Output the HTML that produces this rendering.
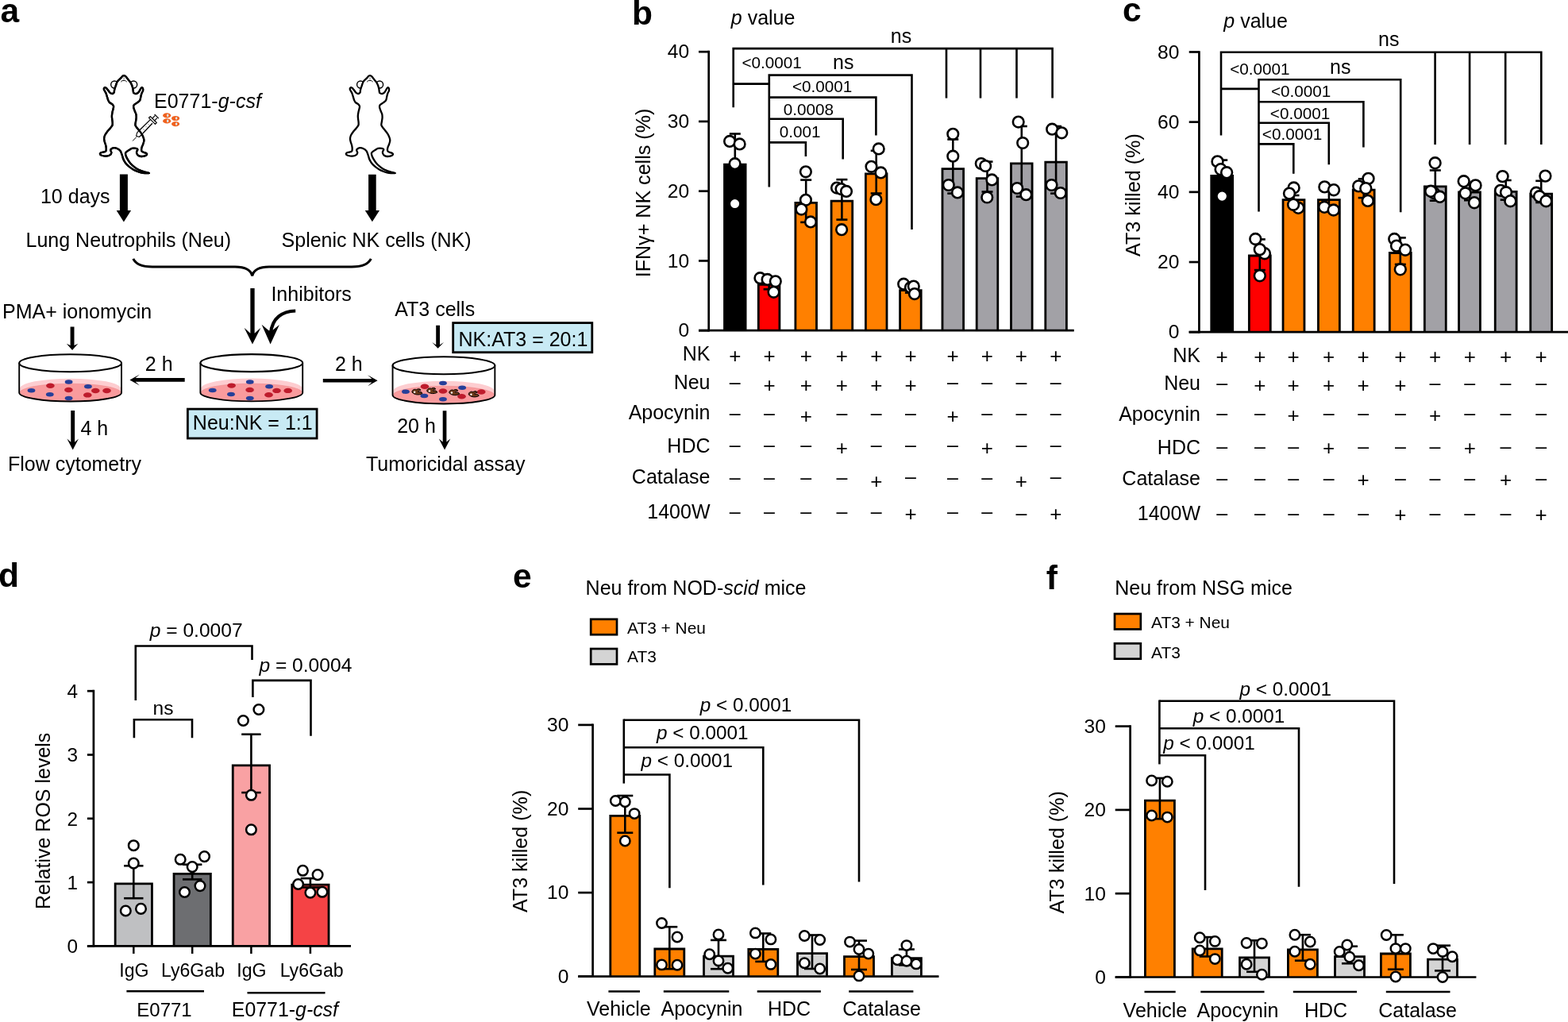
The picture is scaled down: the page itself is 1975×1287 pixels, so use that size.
<!DOCTYPE html>
<html><head><meta charset="utf-8"><title>Figure</title>
<style>
html,body{margin:0;padding:0;background:#fff;overflow:hidden;}
svg{display:block;}
text{font-family:'Liberation Sans', Arial, Helvetica, sans-serif;fill:#000;}
</style></head>
<body>
<svg width="1975" height="1287" viewBox="0 0 1975 1287">
<rect x="0" y="0" width="1975" height="1287" fill="#fff"/>
<g transform="translate(0 0)">
<circle cx="144.2" cy="106.5" r="4.5" fill="#fff" stroke="#000" stroke-width="1.4"/>
<circle cx="168.2" cy="106.5" r="4.5" fill="#fff" stroke="#000" stroke-width="1.4"/>
<path d="M157.4,95.5 C156.57,95.08 155.6,95.1 154.8,95.5 C154,95.9 153.42,97.07 152.6,97.9 C151.78,98.73 150.75,99.62 149.9,100.5 C149.05,101.38 148.15,102.03 147.5,103.2 C146.85,104.37 146.45,106.2 146,107.5 C145.55,108.8 145.13,109.9 144.8,111 C144.47,112.1 144.18,113.2 144,114.1 C143.82,115 144.08,115.75 143.7,116.4 C143.32,117.05 142.55,117.93 141.7,118 C140.85,118.07 139.57,117.58 138.6,116.8 C137.63,116.02 136.68,114.27 135.9,113.3 C135.12,112.33 134.55,111.52 133.9,111 C133.25,110.48 132.52,110.07 132,110.2 C131.48,110.33 130.87,111.15 130.8,111.8 C130.73,112.45 131.17,113.2 131.6,114.1 C132.03,115 132.88,116.03 133.4,117.2 C133.92,118.37 134.25,119.67 134.7,121.1 C135.15,122.53 135.58,124.5 136.1,125.8 C136.62,127.1 136.93,128 137.8,128.9 C138.67,129.8 140.42,130.37 141.3,131.2 C142.18,132.03 142.9,132.87 143.1,133.9 C143.3,134.93 142.75,136.22 142.5,137.4 C142.25,138.58 141.87,139.57 141.6,141 C141.33,142.43 140.97,144.5 140.9,146 C140.83,147.5 141.07,148.68 141.2,150 C141.33,151.32 141.65,152.6 141.7,153.9 C141.75,155.2 142.02,156.5 141.5,157.8 C140.98,159.1 139.78,160.22 138.6,161.7 C137.42,163.18 135.5,165.22 134.4,166.7 C133.3,168.18 132.55,169.3 132,170.6 C131.45,171.9 131.15,173.22 131.1,174.5 C131.05,175.78 131.35,176.88 131.7,178.3 C132.05,179.72 132.85,181.57 133.2,183 C133.55,184.43 133.8,185.67 133.8,186.9 C133.8,188.13 133.88,189.62 133.2,190.4 C132.52,191.18 130.8,191.23 129.7,191.6 C128.6,191.97 127.18,192.08 126.6,192.6 C126.02,193.12 125.82,194.13 126.2,194.7 C126.58,195.27 127.67,195.68 128.9,196 C130.13,196.32 132.03,196.7 133.6,196.6 C135.17,196.5 137.17,196.12 138.3,195.4 C139.43,194.68 140.25,193.33 140.4,192.3 C140.55,191.27 139.17,190.03 139.2,189.2 C139.23,188.37 139.85,187.82 140.6,187.3 C141.35,186.78 142.47,186.1 143.7,186.1 C144.93,186.1 146.7,186.65 148,187.3 C149.3,187.95 150.67,189.03 151.5,190 C152.33,190.97 152.55,192 153,193.1 C153.45,194.2 153.87,195.53 154.2,196.6 C154.53,197.67 154.65,198.53 155,199.5 C155.35,200.47 155.65,201.27 156.3,202.4 C156.95,203.53 157.78,205.02 158.9,206.3 C160.02,207.58 161.52,208.92 163,210.1 C164.48,211.28 166.18,212.47 167.8,213.4 C169.42,214.33 171.07,215.05 172.7,215.7 C174.33,216.35 175.97,216.92 177.6,217.3 C179.23,217.68 180.77,217.9 182.5,218 C184.23,218.1 188,218.15 188,217.9 C188,217.65 184.23,216.98 182.5,216.5 C180.77,216.02 179.23,215.62 177.6,215 C175.97,214.38 174.33,213.77 172.7,212.8 C171.07,211.83 169.27,210.45 167.8,209.2 C166.33,207.95 165.05,206.68 163.9,205.3 C162.75,203.92 161.73,202.28 160.9,200.9 C160.07,199.52 159.38,198.17 158.9,197 C158.42,195.83 158.1,194.68 158,193.9 C157.9,193.12 158.02,192.82 158.3,192.3 C158.58,191.78 158.87,191.43 159.7,190.8 C160.53,190.17 162.22,189.17 163.3,188.5 C164.38,187.83 164.9,187.08 166.2,186.8 C167.5,186.52 169.9,186.57 171.1,186.8 C172.3,187.03 173.22,187.53 173.4,188.2 C173.58,188.87 172.4,189.98 172.2,190.8 C172,191.62 171.83,192.23 172.2,193.1 C172.57,193.97 173.5,195.35 174.4,196 C175.3,196.65 176.25,196.95 177.6,197 C178.95,197.05 181.27,196.68 182.5,196.3 C183.73,195.92 184.7,195.25 185,194.7 C185.3,194.15 185.25,193.6 184.3,193 C183.35,192.4 180.33,191.75 179.3,191.1 C178.27,190.45 178.22,190.03 178.1,189.1 C177.98,188.17 178.25,186.75 178.6,185.5 C178.95,184.25 179.73,183.02 180.2,181.6 C180.67,180.18 181.33,178.42 181.4,177 C181.47,175.58 181.12,174.53 180.6,173.1 C180.08,171.67 179.27,169.97 178.3,168.4 C177.33,166.83 175.9,165.12 174.8,163.7 C173.7,162.28 172.43,161 171.7,159.9 C170.97,158.8 170.5,158.33 170.4,157.1 C170.3,155.87 170.88,154.05 171.1,152.5 C171.32,150.95 171.67,149.3 171.7,147.8 C171.73,146.3 171.68,144.97 171.3,143.5 C170.92,142.03 169.93,140.47 169.4,139 C168.87,137.53 168.18,135.87 168.1,134.7 C168.02,133.53 168.18,132.85 168.9,132 C169.62,131.15 171.3,130.38 172.4,129.6 C173.5,128.82 174.78,128.07 175.5,127.3 C176.22,126.53 176.37,126.03 176.7,125 C177.03,123.97 177.18,122.4 177.5,121.1 C177.82,119.8 178.17,118.37 178.6,117.2 C179.03,116.03 179.9,115.13 180.1,114.1 C180.3,113.07 180.12,111.62 179.8,111 C179.48,110.38 178.78,110.02 178.2,110.4 C177.62,110.78 176.93,112.3 176.3,113.3 C175.67,114.3 175.18,115.62 174.4,116.4 C173.62,117.18 172.58,117.87 171.6,118 C170.62,118.13 169.13,117.72 168.5,117.2 C167.87,116.68 167.98,115.8 167.8,114.9 C167.62,114 167.67,113.03 167.4,111.8 C167.13,110.57 166.72,108.87 166.2,107.5 C165.68,106.13 164.95,104.63 164.3,103.6 C163.65,102.57 163.05,102.23 162.3,101.3 C161.55,100.37 160.62,98.97 159.8,98 C158.98,97.03 158.23,95.92 157.4,95.5Z" fill="#fff" stroke="#000" stroke-width="2.3" stroke-linejoin="round"/>
<path d="M152.7,103.3 C152.8,101.7 154,101.4 156.1,101.4 C158.2,101.4 159.1,101.7 159.2,103.3" fill="none" stroke="#000" stroke-width="1.0"/>
<path d="M156.1,97.4 V100.6" fill="none" stroke="#555" stroke-width="0.8"/>
</g>
<g transform="translate(309.9 0)">
<circle cx="144.2" cy="106.5" r="4.5" fill="#fff" stroke="#000" stroke-width="1.4"/>
<circle cx="168.2" cy="106.5" r="4.5" fill="#fff" stroke="#000" stroke-width="1.4"/>
<path d="M157.4,95.5 C156.57,95.08 155.6,95.1 154.8,95.5 C154,95.9 153.42,97.07 152.6,97.9 C151.78,98.73 150.75,99.62 149.9,100.5 C149.05,101.38 148.15,102.03 147.5,103.2 C146.85,104.37 146.45,106.2 146,107.5 C145.55,108.8 145.13,109.9 144.8,111 C144.47,112.1 144.18,113.2 144,114.1 C143.82,115 144.08,115.75 143.7,116.4 C143.32,117.05 142.55,117.93 141.7,118 C140.85,118.07 139.57,117.58 138.6,116.8 C137.63,116.02 136.68,114.27 135.9,113.3 C135.12,112.33 134.55,111.52 133.9,111 C133.25,110.48 132.52,110.07 132,110.2 C131.48,110.33 130.87,111.15 130.8,111.8 C130.73,112.45 131.17,113.2 131.6,114.1 C132.03,115 132.88,116.03 133.4,117.2 C133.92,118.37 134.25,119.67 134.7,121.1 C135.15,122.53 135.58,124.5 136.1,125.8 C136.62,127.1 136.93,128 137.8,128.9 C138.67,129.8 140.42,130.37 141.3,131.2 C142.18,132.03 142.9,132.87 143.1,133.9 C143.3,134.93 142.75,136.22 142.5,137.4 C142.25,138.58 141.87,139.57 141.6,141 C141.33,142.43 140.97,144.5 140.9,146 C140.83,147.5 141.07,148.68 141.2,150 C141.33,151.32 141.65,152.6 141.7,153.9 C141.75,155.2 142.02,156.5 141.5,157.8 C140.98,159.1 139.78,160.22 138.6,161.7 C137.42,163.18 135.5,165.22 134.4,166.7 C133.3,168.18 132.55,169.3 132,170.6 C131.45,171.9 131.15,173.22 131.1,174.5 C131.05,175.78 131.35,176.88 131.7,178.3 C132.05,179.72 132.85,181.57 133.2,183 C133.55,184.43 133.8,185.67 133.8,186.9 C133.8,188.13 133.88,189.62 133.2,190.4 C132.52,191.18 130.8,191.23 129.7,191.6 C128.6,191.97 127.18,192.08 126.6,192.6 C126.02,193.12 125.82,194.13 126.2,194.7 C126.58,195.27 127.67,195.68 128.9,196 C130.13,196.32 132.03,196.7 133.6,196.6 C135.17,196.5 137.17,196.12 138.3,195.4 C139.43,194.68 140.25,193.33 140.4,192.3 C140.55,191.27 139.17,190.03 139.2,189.2 C139.23,188.37 139.85,187.82 140.6,187.3 C141.35,186.78 142.47,186.1 143.7,186.1 C144.93,186.1 146.7,186.65 148,187.3 C149.3,187.95 150.67,189.03 151.5,190 C152.33,190.97 152.55,192 153,193.1 C153.45,194.2 153.87,195.53 154.2,196.6 C154.53,197.67 154.65,198.53 155,199.5 C155.35,200.47 155.65,201.27 156.3,202.4 C156.95,203.53 157.78,205.02 158.9,206.3 C160.02,207.58 161.52,208.92 163,210.1 C164.48,211.28 166.18,212.47 167.8,213.4 C169.42,214.33 171.07,215.05 172.7,215.7 C174.33,216.35 175.97,216.92 177.6,217.3 C179.23,217.68 180.77,217.9 182.5,218 C184.23,218.1 188,218.15 188,217.9 C188,217.65 184.23,216.98 182.5,216.5 C180.77,216.02 179.23,215.62 177.6,215 C175.97,214.38 174.33,213.77 172.7,212.8 C171.07,211.83 169.27,210.45 167.8,209.2 C166.33,207.95 165.05,206.68 163.9,205.3 C162.75,203.92 161.73,202.28 160.9,200.9 C160.07,199.52 159.38,198.17 158.9,197 C158.42,195.83 158.1,194.68 158,193.9 C157.9,193.12 158.02,192.82 158.3,192.3 C158.58,191.78 158.87,191.43 159.7,190.8 C160.53,190.17 162.22,189.17 163.3,188.5 C164.38,187.83 164.9,187.08 166.2,186.8 C167.5,186.52 169.9,186.57 171.1,186.8 C172.3,187.03 173.22,187.53 173.4,188.2 C173.58,188.87 172.4,189.98 172.2,190.8 C172,191.62 171.83,192.23 172.2,193.1 C172.57,193.97 173.5,195.35 174.4,196 C175.3,196.65 176.25,196.95 177.6,197 C178.95,197.05 181.27,196.68 182.5,196.3 C183.73,195.92 184.7,195.25 185,194.7 C185.3,194.15 185.25,193.6 184.3,193 C183.35,192.4 180.33,191.75 179.3,191.1 C178.27,190.45 178.22,190.03 178.1,189.1 C177.98,188.17 178.25,186.75 178.6,185.5 C178.95,184.25 179.73,183.02 180.2,181.6 C180.67,180.18 181.33,178.42 181.4,177 C181.47,175.58 181.12,174.53 180.6,173.1 C180.08,171.67 179.27,169.97 178.3,168.4 C177.33,166.83 175.9,165.12 174.8,163.7 C173.7,162.28 172.43,161 171.7,159.9 C170.97,158.8 170.5,158.33 170.4,157.1 C170.3,155.87 170.88,154.05 171.1,152.5 C171.32,150.95 171.67,149.3 171.7,147.8 C171.73,146.3 171.68,144.97 171.3,143.5 C170.92,142.03 169.93,140.47 169.4,139 C168.87,137.53 168.18,135.87 168.1,134.7 C168.02,133.53 168.18,132.85 168.9,132 C169.62,131.15 171.3,130.38 172.4,129.6 C173.5,128.82 174.78,128.07 175.5,127.3 C176.22,126.53 176.37,126.03 176.7,125 C177.03,123.97 177.18,122.4 177.5,121.1 C177.82,119.8 178.17,118.37 178.6,117.2 C179.03,116.03 179.9,115.13 180.1,114.1 C180.3,113.07 180.12,111.62 179.8,111 C179.48,110.38 178.78,110.02 178.2,110.4 C177.62,110.78 176.93,112.3 176.3,113.3 C175.67,114.3 175.18,115.62 174.4,116.4 C173.62,117.18 172.58,117.87 171.6,118 C170.62,118.13 169.13,117.72 168.5,117.2 C167.87,116.68 167.98,115.8 167.8,114.9 C167.62,114 167.67,113.03 167.4,111.8 C167.13,110.57 166.72,108.87 166.2,107.5 C165.68,106.13 164.95,104.63 164.3,103.6 C163.65,102.57 163.05,102.23 162.3,101.3 C161.55,100.37 160.62,98.97 159.8,98 C158.98,97.03 158.23,95.92 157.4,95.5Z" fill="#fff" stroke="#000" stroke-width="2.3" stroke-linejoin="round"/>
<path d="M152.7,103.3 C152.8,101.7 154,101.4 156.1,101.4 C158.2,101.4 159.1,101.7 159.2,103.3" fill="none" stroke="#000" stroke-width="1.0"/>
<path d="M156.1,97.4 V100.6" fill="none" stroke="#555" stroke-width="0.8"/>
</g>
<g stroke="#000" fill="#fff" stroke-linejoin="round">
<path d="M176,163.7 L189.4,150.6 M179.9,168 L191.9,155.2" stroke-width="1.3" fill="none"/>
<path d="M187.5,148.3 L189.4,146.6 L197.3,154.5 L195.5,156.3 Z" stroke-width="1.2"/>
<path d="M191.5,149.5 L195.2,145.7 M194.2,152.3 L197.9,148.6 M194.6,143.8 L199.9,149.1" stroke-width="1.2" fill="none"/>
<path d="M176,163.7 L172.8,166.9 L171.6,171.2 L175.4,172.5 L179.9,168" stroke-width="1.1" fill="#fff"/>
<path d="M171.9,172.5 L167.1,177.5" stroke-width="1" fill="none"/>
<path d="M180.5,162.5 l1.2,1.2 M183.6,159.2 l1.2,1.2 M186.6,156.3 l1.2,1.2" stroke-width="0.6" fill="none"/>
</g>
<path d="M157.4,95.5 C156.57,95.08 155.6,95.1 154.8,95.5 C154,95.9 153.42,97.07 152.6,97.9 C151.78,98.73 150.75,99.62 149.9,100.5 C149.05,101.38 148.15,102.03 147.5,103.2 C146.85,104.37 146.45,106.2 146,107.5 C145.55,108.8 145.13,109.9 144.8,111 C144.47,112.1 144.18,113.2 144,114.1 C143.82,115 144.08,115.75 143.7,116.4 C143.32,117.05 142.55,117.93 141.7,118 C140.85,118.07 139.57,117.58 138.6,116.8 C137.63,116.02 136.68,114.27 135.9,113.3 C135.12,112.33 134.55,111.52 133.9,111 C133.25,110.48 132.52,110.07 132,110.2 C131.48,110.33 130.87,111.15 130.8,111.8 C130.73,112.45 131.17,113.2 131.6,114.1 C132.03,115 132.88,116.03 133.4,117.2 C133.92,118.37 134.25,119.67 134.7,121.1 C135.15,122.53 135.58,124.5 136.1,125.8 C136.62,127.1 136.93,128 137.8,128.9 C138.67,129.8 140.42,130.37 141.3,131.2 C142.18,132.03 142.9,132.87 143.1,133.9 C143.3,134.93 142.75,136.22 142.5,137.4 C142.25,138.58 141.87,139.57 141.6,141 C141.33,142.43 140.97,144.5 140.9,146 C140.83,147.5 141.07,148.68 141.2,150 C141.33,151.32 141.65,152.6 141.7,153.9 C141.75,155.2 142.02,156.5 141.5,157.8 C140.98,159.1 139.78,160.22 138.6,161.7 C137.42,163.18 135.5,165.22 134.4,166.7 C133.3,168.18 132.55,169.3 132,170.6 C131.45,171.9 131.15,173.22 131.1,174.5 C131.05,175.78 131.35,176.88 131.7,178.3 C132.05,179.72 132.85,181.57 133.2,183 C133.55,184.43 133.8,185.67 133.8,186.9 C133.8,188.13 133.88,189.62 133.2,190.4 C132.52,191.18 130.8,191.23 129.7,191.6 C128.6,191.97 127.18,192.08 126.6,192.6 C126.02,193.12 125.82,194.13 126.2,194.7 C126.58,195.27 127.67,195.68 128.9,196 C130.13,196.32 132.03,196.7 133.6,196.6 C135.17,196.5 137.17,196.12 138.3,195.4 C139.43,194.68 140.25,193.33 140.4,192.3 C140.55,191.27 139.17,190.03 139.2,189.2 C139.23,188.37 139.85,187.82 140.6,187.3 C141.35,186.78 142.47,186.1 143.7,186.1 C144.93,186.1 146.7,186.65 148,187.3 C149.3,187.95 150.67,189.03 151.5,190 C152.33,190.97 152.55,192 153,193.1 C153.45,194.2 153.87,195.53 154.2,196.6 C154.53,197.67 154.65,198.53 155,199.5 C155.35,200.47 155.65,201.27 156.3,202.4 C156.95,203.53 157.78,205.02 158.9,206.3 C160.02,207.58 161.52,208.92 163,210.1 C164.48,211.28 166.18,212.47 167.8,213.4 C169.42,214.33 171.07,215.05 172.7,215.7 C174.33,216.35 175.97,216.92 177.6,217.3 C179.23,217.68 180.77,217.9 182.5,218 C184.23,218.1 188,218.15 188,217.9 C188,217.65 184.23,216.98 182.5,216.5 C180.77,216.02 179.23,215.62 177.6,215 C175.97,214.38 174.33,213.77 172.7,212.8 C171.07,211.83 169.27,210.45 167.8,209.2 C166.33,207.95 165.05,206.68 163.9,205.3 C162.75,203.92 161.73,202.28 160.9,200.9 C160.07,199.52 159.38,198.17 158.9,197 C158.42,195.83 158.1,194.68 158,193.9 C157.9,193.12 158.02,192.82 158.3,192.3 C158.58,191.78 158.87,191.43 159.7,190.8 C160.53,190.17 162.22,189.17 163.3,188.5 C164.38,187.83 164.9,187.08 166.2,186.8 C167.5,186.52 169.9,186.57 171.1,186.8 C172.3,187.03 173.22,187.53 173.4,188.2 C173.58,188.87 172.4,189.98 172.2,190.8 C172,191.62 171.83,192.23 172.2,193.1 C172.57,193.97 173.5,195.35 174.4,196 C175.3,196.65 176.25,196.95 177.6,197 C178.95,197.05 181.27,196.68 182.5,196.3 C183.73,195.92 184.7,195.25 185,194.7 C185.3,194.15 185.25,193.6 184.3,193 C183.35,192.4 180.33,191.75 179.3,191.1 C178.27,190.45 178.22,190.03 178.1,189.1 C177.98,188.17 178.25,186.75 178.6,185.5 C178.95,184.25 179.73,183.02 180.2,181.6 C180.67,180.18 181.33,178.42 181.4,177 C181.47,175.58 181.12,174.53 180.6,173.1 C180.08,171.67 179.27,169.97 178.3,168.4 C177.33,166.83 175.9,165.12 174.8,163.7 C173.7,162.28 172.43,161 171.7,159.9 C170.97,158.8 170.5,158.33 170.4,157.1 C170.3,155.87 170.88,154.05 171.1,152.5 C171.32,150.95 171.67,149.3 171.7,147.8 C171.73,146.3 171.68,144.97 171.3,143.5 C170.92,142.03 169.93,140.47 169.4,139 C168.87,137.53 168.18,135.87 168.1,134.7 C168.02,133.53 168.18,132.85 168.9,132 C169.62,131.15 171.3,130.38 172.4,129.6 C173.5,128.82 174.78,128.07 175.5,127.3 C176.22,126.53 176.37,126.03 176.7,125 C177.03,123.97 177.18,122.4 177.5,121.1 C177.82,119.8 178.17,118.37 178.6,117.2 C179.03,116.03 179.9,115.13 180.1,114.1 C180.3,113.07 180.12,111.62 179.8,111 C179.48,110.38 178.78,110.02 178.2,110.4 C177.62,110.78 176.93,112.3 176.3,113.3 C175.67,114.3 175.18,115.62 174.4,116.4 C173.62,117.18 172.58,117.87 171.6,118 C170.62,118.13 169.13,117.72 168.5,117.2 C167.87,116.68 167.98,115.8 167.8,114.9 C167.62,114 167.67,113.03 167.4,111.8 C167.13,110.57 166.72,108.87 166.2,107.5 C165.68,106.13 164.95,104.63 164.3,103.6 C163.65,102.57 163.05,102.23 162.3,101.3 C161.55,100.37 160.62,98.97 159.8,98 C158.98,97.03 158.23,95.92 157.4,95.5Z" fill="none" stroke="#000" stroke-width="2.3" stroke-linejoin="round"/>
<ellipse cx="210.2" cy="145.4" rx="5.1" ry="3.1" fill="#f0621f"/>
<ellipse cx="211.2" cy="145.4" rx="1.2" ry="1.8" fill="#dde9f1"/>
<ellipse cx="221.1" cy="149.0" rx="5.1" ry="3.1" fill="#f0621f"/>
<ellipse cx="222.1" cy="149.0" rx="1.2" ry="1.8" fill="#dde9f1"/>
<ellipse cx="210.2" cy="152.4" rx="5.1" ry="3.1" fill="#f0621f"/>
<ellipse cx="211.2" cy="152.4" rx="1.2" ry="1.8" fill="#dde9f1"/>
<ellipse cx="221.1" cy="156.1" rx="5.1" ry="3.1" fill="#f0621f"/>
<ellipse cx="222.1" cy="156.1" rx="1.2" ry="1.8" fill="#dde9f1"/>
<text x="261.45" y="136.3" font-size="25" text-anchor="middle">E0771-<tspan font-style="italic">g-csf</tspan></text>
<path d="M150.9,219.4 H160.9 V265 H165.1 L155.9,279.6 L146.7,265 H150.9 Z" fill="#000"/>
<path d="M464.1,219.7 H473.7 V265 H478 L468.9,279.3 L459.8,265 H464.1 Z" fill="#000"/>
<text x="94.75" y="255.8" font-size="25" text-anchor="middle">10 days</text>
<text x="161.8" y="311.1" font-size="25" text-anchor="middle">Lung Neutrophils (Neu)</text>
<text x="474.05" y="311.1" font-size="25" text-anchor="middle">Splenic NK cells (NK)</text>
<path d="M167.8,325.8 C171,332.5 178,335.9 192,335.9 L296,335.9 C309,335.9 316,340 317.7,347.3 C319.4,340 326,335.9 339,335.9 L443,335.9 C457,335.9 464,332.5 467.3,325.8" fill="none" stroke="#000" stroke-width="3"/>
<path d="M315.35,363 H320.65 V419.7 L328.4,412.7 L318,433.4 L307.6,412.7 L315.35,419.7 Z" fill="#000"/>
<path d="M372.2,391.5 C356,392 342.5,400 341,420" fill="none" stroke="#000" stroke-width="4.2"/>
<path d="M329.6,408.7 L340.6,433.4 L351.9,409.1 L342.8,416.3 L338.6,416.3 Z" fill="#000"/>
<text x="392.15" y="379.2" font-size="25" text-anchor="middle">Inhibitors</text>
<text x="97.1" y="400.5" font-size="25" text-anchor="middle">PMA+ ionomycin</text>
<path d="M88.6,411.5 H93.5 V435.1 L98.25,432.7 L91.05,440.9 L83.85,432.7 L88.6,435.1 Z" fill="#000"/>
<path d="M25,489.2 A63.6,12.5 0 0 1 152.2,489.2 V494.5 A63.6,11.3 0 0 1 25,494.5 Z" fill="#fdcdd0"/>
<ellipse cx="88.6" cy="494.5" rx="63.6" ry="11.3" fill="#f99b9d"/>
<path d="M25,494.5 A63.6,11.3 0 0 1 152.2,494.5" fill="none" stroke="#ee8a8d" stroke-width="0.6"/>
<ellipse cx="39.5" cy="491.7" rx="4.9" ry="2.75" fill="#263f99"/>
<ellipse cx="86.6" cy="481.1" rx="4.9" ry="2.75" fill="#263f99"/>
<ellipse cx="110.9" cy="486.8" rx="4.9" ry="2.75" fill="#263f99"/>
<ellipse cx="62.8" cy="496.7" rx="4.9" ry="2.75" fill="#263f99"/>
<ellipse cx="86.6" cy="501.5" rx="4.9" ry="2.75" fill="#263f99"/>
<ellipse cx="63.4" cy="485.7" rx="5.3" ry="3.2" fill="#be1c2c"/>
<ellipse cx="86.4" cy="491" rx="5.3" ry="3.2" fill="#be1c2c"/>
<ellipse cx="120.3" cy="492" rx="5.3" ry="3.2" fill="#be1c2c"/>
<ellipse cx="134.5" cy="492" rx="5.3" ry="3.2" fill="#be1c2c"/>
<ellipse cx="110.3" cy="497.4" rx="5.3" ry="3.2" fill="#be1c2c"/>
<path d="M24.2,457.2 V494.5 A64.4,11 0 0 0 153,494.5 V457.2" fill="none" stroke="#000" stroke-width="1.9"/>
<ellipse cx="88.6" cy="457.2" rx="64.4" ry="11" fill="none" stroke="#000" stroke-width="2.1"/>
<path d="M253.2,489.1 A63.6,12.5 0 0 1 380.4,489.1 V494.4 A63.6,11.3 0 0 1 253.2,494.4 Z" fill="#fdcdd0"/>
<ellipse cx="316.8" cy="494.4" rx="63.6" ry="11.3" fill="#f99b9d"/>
<path d="M253.2,494.4 A63.6,11.3 0 0 1 380.4,494.4" fill="none" stroke="#ee8a8d" stroke-width="0.6"/>
<ellipse cx="267.7" cy="491.6" rx="4.9" ry="2.75" fill="#263f99"/>
<ellipse cx="314.8" cy="481" rx="4.9" ry="2.75" fill="#263f99"/>
<ellipse cx="339.1" cy="486.7" rx="4.9" ry="2.75" fill="#263f99"/>
<ellipse cx="291" cy="496.6" rx="4.9" ry="2.75" fill="#263f99"/>
<ellipse cx="314.8" cy="501.4" rx="4.9" ry="2.75" fill="#263f99"/>
<ellipse cx="291.6" cy="485.6" rx="5.3" ry="3.2" fill="#be1c2c"/>
<ellipse cx="314.6" cy="490.9" rx="5.3" ry="3.2" fill="#be1c2c"/>
<ellipse cx="348.5" cy="491.9" rx="5.3" ry="3.2" fill="#be1c2c"/>
<ellipse cx="362.7" cy="491.9" rx="5.3" ry="3.2" fill="#be1c2c"/>
<ellipse cx="338.5" cy="497.3" rx="5.3" ry="3.2" fill="#be1c2c"/>
<path d="M252.4,457.1 V494.4 A64.4,11 0 0 0 381.2,494.4 V457.1" fill="none" stroke="#000" stroke-width="1.9"/>
<ellipse cx="316.8" cy="457.1" rx="64.4" ry="11" fill="none" stroke="#000" stroke-width="2.1"/>
<path d="M495.35,492.2 A63.6,12.5 0 0 1 622.55,492.2 V497.5 A63.6,11.3 0 0 1 495.35,497.5 Z" fill="#fdcdd0"/>
<ellipse cx="558.95" cy="497.5" rx="63.6" ry="11.3" fill="#f99b9d"/>
<path d="M495.35,497.5 A63.6,11.3 0 0 1 622.55,497.5" fill="none" stroke="#ee8a8d" stroke-width="0.6"/>
<ellipse cx="510.95" cy="493.2" rx="4.9" ry="2.75" fill="#263f99"/>
<ellipse cx="557.95" cy="482.5" rx="4.9" ry="2.75" fill="#263f99"/>
<ellipse cx="582.15" cy="488.2" rx="4.9" ry="2.75" fill="#263f99"/>
<ellipse cx="534.35" cy="498.5" rx="4.9" ry="2.75" fill="#263f99"/>
<ellipse cx="557.95" cy="502.7" rx="4.9" ry="2.75" fill="#263f99"/>
<ellipse cx="534.95" cy="486.8" rx="5.3" ry="3.2" fill="#be1c2c"/>
<ellipse cx="557.95" cy="492.5" rx="5.3" ry="3.2" fill="#be1c2c"/>
<ellipse cx="606.25" cy="493.5" rx="5.3" ry="3.2" fill="#be1c2c"/>
<ellipse cx="581.55" cy="499.2" rx="5.3" ry="3.2" fill="#be1c2c"/>
<path d="M518.95,494 C518.95,490.5 522.45,489.7 524.45,490.7 C526.45,489.3 529.45,489.5 529.95,491.3 C527.45,491.5 526.45,492.5 526.95,493.7 C528.95,492.7 531.45,493.5 531.95,495.5 C528.45,497.7 522.45,497.7 518.95,494 Z" fill="#6b3818" stroke="#000" stroke-width="1"/>
<circle cx="522.15" cy="493.8" r="1.2" fill="#fff"/>
<path d="M537.75,492.6 C537.75,489.1 541.25,488.3 543.25,489.3 C545.25,487.9 548.25,488.1 548.75,489.9 C546.25,490.1 545.25,491.1 545.75,492.3 C547.75,491.3 550.25,492.1 550.75,494.1 C547.25,496.3 541.25,496.3 537.75,492.6 Z" fill="#6b3818" stroke="#000" stroke-width="1"/>
<circle cx="540.95" cy="492.4" r="1.2" fill="#fff"/>
<path d="M565.75,494.7 C565.75,491.2 569.25,490.4 571.25,491.4 C573.25,490 576.25,490.2 576.75,492 C574.25,492.2 573.25,493.2 573.75,494.4 C575.75,493.4 578.25,494.2 578.75,496.2 C575.25,498.4 569.25,498.4 565.75,494.7 Z" fill="#6b3818" stroke="#000" stroke-width="1"/>
<circle cx="568.95" cy="494.5" r="1.2" fill="#fff"/>
<path d="M590.25,496.9 C590.25,493.4 593.75,492.6 595.75,493.6 C597.75,492.2 600.75,492.4 601.25,494.2 C598.75,494.4 597.75,495.4 598.25,496.6 C600.25,495.6 602.75,496.4 603.25,498.4 C599.75,500.6 593.75,500.6 590.25,496.9 Z" fill="#6b3818" stroke="#000" stroke-width="1"/>
<circle cx="593.45" cy="496.7" r="1.2" fill="#fff"/>
<path d="M494.55,460.2 V497.5 A64.4,11 0 0 0 623.35,497.5 V460.2" fill="none" stroke="#000" stroke-width="1.9"/>
<ellipse cx="558.95" cy="460.2" rx="64.4" ry="11" fill="none" stroke="#000" stroke-width="2.1"/>
<path d="M232.7,476.1 H170.6 L175.9,471.4 L163.4,478.4 L175.9,485.4 L170.6,480.7 H232.7 Z" fill="#000"/>
<text x="200.2" y="466.6" font-size="25" text-anchor="middle">2 h</text>
<path d="M406.8,476.9 H468.4 L463.1,472.2 L475.6,479.2 L463.1,486.2 L468.4,481.5 H406.8 Z" fill="#000"/>
<text x="439.4" y="466.5" font-size="25" text-anchor="middle">2 h</text>
<rect x="236.4" y="515.1" width="162.7" height="36.9" fill="#c8eaf4" stroke="#000" stroke-width="2.8"/>
<text x="318.25" y="540.9" font-size="25" text-anchor="middle">Neu:NK = 1:1</text>
<rect x="570.7" y="406.6" width="175.1" height="37.1" fill="#c8eaf4" stroke="#000" stroke-width="2.8"/>
<text x="658.95" y="435.5" font-size="25" text-anchor="middle">NK:AT3 = 20:1</text>
<text x="547.7" y="397.9" font-size="25" text-anchor="middle">AT3 cells</text>
<path d="M549.2,409.7 H554 V434.3 L559.05,431 L551.6,438.8 L544.15,431 L549.2,434.3 Z" fill="#000"/>
<path d="M89.25,517 H94.15 V556.8 L98.95,552.6 L91.7,566.5 L84.45,552.6 L89.25,556.8 Z" fill="#000"/>
<text x="118.85" y="548.1" font-size="25" text-anchor="middle">4 h</text>
<path d="M557.7,517.2 H562.4 V556.6 L567.3,552.5 L560.05,566.5 L552.8,552.5 L557.7,556.6 Z" fill="#000"/>
<text x="524.5" y="544.9" font-size="25" text-anchor="middle">20 h</text>
<text x="94" y="592.9" font-size="25" text-anchor="middle">Flow cytometry</text>
<text x="561.25" y="593.3" font-size="25" text-anchor="middle">Tumoricidal assay</text>
<text x="12.2" y="27.6" font-size="42.5" text-anchor="middle" font-weight="bold">a</text>
<line x1="892.7" y1="63.85" x2="892.7" y2="417.55" stroke="#000" stroke-width="2.7" stroke-linecap="butt"/>
<line x1="880" y1="416.2" x2="892.7" y2="416.2" stroke="#000" stroke-width="2.7" stroke-linecap="butt"/>
<text x="868.2" y="424.4" font-size="24.6" text-anchor="end">0</text>
<line x1="880" y1="328.45" x2="892.7" y2="328.45" stroke="#000" stroke-width="2.7" stroke-linecap="butt"/>
<text x="868.2" y="336.65" font-size="24.6" text-anchor="end">10</text>
<line x1="880" y1="240.7" x2="892.7" y2="240.7" stroke="#000" stroke-width="2.7" stroke-linecap="butt"/>
<text x="868.2" y="248.9" font-size="24.6" text-anchor="end">20</text>
<line x1="880" y1="152.95" x2="892.7" y2="152.95" stroke="#000" stroke-width="2.7" stroke-linecap="butt"/>
<text x="868.2" y="161.15" font-size="24.6" text-anchor="end">30</text>
<line x1="880" y1="65.2" x2="892.7" y2="65.2" stroke="#000" stroke-width="2.7" stroke-linecap="butt"/>
<text x="868.2" y="73.4" font-size="24.6" text-anchor="end">40</text>
<path d="M912.5,416.2 V207.2 H939.1 V416.2" fill="#000" stroke="#000" stroke-width="2.8" stroke-linejoin="miter"/>
<path d="M955.3,416.2 V358.4 H981.9 V416.2" fill="#ff0000" stroke="#000" stroke-width="2.8" stroke-linejoin="miter"/>
<path d="M1001.9,416.2 V255.4 H1028.5 V416.2" fill="#ff8000" stroke="#000" stroke-width="2.8" stroke-linejoin="miter"/>
<path d="M1047.1,416.2 V253.2 H1073.7 V416.2" fill="#ff8000" stroke="#000" stroke-width="2.8" stroke-linejoin="miter"/>
<path d="M1090.4,416.2 V218.8 H1117 V416.2" fill="#ff8000" stroke="#000" stroke-width="2.8" stroke-linejoin="miter"/>
<path d="M1133.6,416.2 V365.7 H1160.2 V416.2" fill="#ff8000" stroke="#000" stroke-width="2.8" stroke-linejoin="miter"/>
<path d="M1187,416.2 V212.6 H1213.6 V416.2" fill="#a2a1a6" stroke="#000" stroke-width="2.8" stroke-linejoin="miter"/>
<path d="M1230.2,416.2 V224.7 H1256.8 V416.2" fill="#a2a1a6" stroke="#000" stroke-width="2.8" stroke-linejoin="miter"/>
<path d="M1273.5,416.2 V205.9 H1300.1 V416.2" fill="#a2a1a6" stroke="#000" stroke-width="2.8" stroke-linejoin="miter"/>
<path d="M1316.8,416.2 V204.1 H1343.4 V416.2" fill="#a2a1a6" stroke="#000" stroke-width="2.8" stroke-linejoin="miter"/>
<line x1="880" y1="416.2" x2="1352.8" y2="416.2" stroke="#000" stroke-width="2.7" stroke-linecap="butt"/>
<line x1="925.8" y1="168.5" x2="925.8" y2="245.5" stroke="#000" stroke-width="2.6" stroke-linecap="butt"/>
<line x1="918.8" y1="168.5" x2="932.8" y2="168.5" stroke="#000" stroke-width="2.6" stroke-linecap="butt"/>
<line x1="918.8" y1="245.5" x2="932.8" y2="245.5" stroke="#000" stroke-width="2.6" stroke-linecap="butt"/>
<line x1="968.6" y1="352.5" x2="968.6" y2="364.3" stroke="#000" stroke-width="2.6" stroke-linecap="butt"/>
<line x1="961.6" y1="352.5" x2="975.6" y2="352.5" stroke="#000" stroke-width="2.6" stroke-linecap="butt"/>
<line x1="961.6" y1="364.3" x2="975.6" y2="364.3" stroke="#000" stroke-width="2.6" stroke-linecap="butt"/>
<line x1="1015.2" y1="226.6" x2="1015.2" y2="279.9" stroke="#000" stroke-width="2.6" stroke-linecap="butt"/>
<line x1="1008.2" y1="226.6" x2="1022.2" y2="226.6" stroke="#000" stroke-width="2.6" stroke-linecap="butt"/>
<line x1="1008.2" y1="279.9" x2="1022.2" y2="279.9" stroke="#000" stroke-width="2.6" stroke-linecap="butt"/>
<line x1="1060.4" y1="226.1" x2="1060.4" y2="276.6" stroke="#000" stroke-width="2.6" stroke-linecap="butt"/>
<line x1="1053.4" y1="226.1" x2="1067.4" y2="226.1" stroke="#000" stroke-width="2.6" stroke-linecap="butt"/>
<line x1="1053.4" y1="276.6" x2="1067.4" y2="276.6" stroke="#000" stroke-width="2.6" stroke-linecap="butt"/>
<line x1="1103.7" y1="189.8" x2="1103.7" y2="243.5" stroke="#000" stroke-width="2.6" stroke-linecap="butt"/>
<line x1="1096.7" y1="189.8" x2="1110.7" y2="189.8" stroke="#000" stroke-width="2.6" stroke-linecap="butt"/>
<line x1="1096.7" y1="243.5" x2="1110.7" y2="243.5" stroke="#000" stroke-width="2.6" stroke-linecap="butt"/>
<line x1="1146.9" y1="362.8" x2="1146.9" y2="368.6" stroke="#000" stroke-width="2.6" stroke-linecap="butt"/>
<line x1="1139.9" y1="362.8" x2="1153.9" y2="362.8" stroke="#000" stroke-width="2.6" stroke-linecap="butt"/>
<line x1="1139.9" y1="368.6" x2="1153.9" y2="368.6" stroke="#000" stroke-width="2.6" stroke-linecap="butt"/>
<line x1="1200.3" y1="175.5" x2="1200.3" y2="243.6" stroke="#000" stroke-width="2.6" stroke-linecap="butt"/>
<line x1="1193.3" y1="175.5" x2="1207.3" y2="175.5" stroke="#000" stroke-width="2.6" stroke-linecap="butt"/>
<line x1="1193.3" y1="243.6" x2="1207.3" y2="243.6" stroke="#000" stroke-width="2.6" stroke-linecap="butt"/>
<line x1="1243.5" y1="203.6" x2="1243.5" y2="241.5" stroke="#000" stroke-width="2.6" stroke-linecap="butt"/>
<line x1="1236.5" y1="203.6" x2="1250.5" y2="203.6" stroke="#000" stroke-width="2.6" stroke-linecap="butt"/>
<line x1="1236.5" y1="241.5" x2="1250.5" y2="241.5" stroke="#000" stroke-width="2.6" stroke-linecap="butt"/>
<line x1="1286.8" y1="159" x2="1286.8" y2="247.6" stroke="#000" stroke-width="2.6" stroke-linecap="butt"/>
<line x1="1279.8" y1="159" x2="1293.8" y2="159" stroke="#000" stroke-width="2.6" stroke-linecap="butt"/>
<line x1="1279.8" y1="247.6" x2="1293.8" y2="247.6" stroke="#000" stroke-width="2.6" stroke-linecap="butt"/>
<line x1="1330.1" y1="159" x2="1330.1" y2="243.6" stroke="#000" stroke-width="2.6" stroke-linecap="butt"/>
<line x1="1323.1" y1="159" x2="1337.1" y2="159" stroke="#000" stroke-width="2.6" stroke-linecap="butt"/>
<line x1="1323.1" y1="243.6" x2="1337.1" y2="243.6" stroke="#000" stroke-width="2.6" stroke-linecap="butt"/>
<circle cx="919.1" cy="177.9" r="6.8" fill="#fff" stroke="#000" stroke-width="2.6"/>
<circle cx="931.6" cy="181.4" r="6.8" fill="#fff" stroke="#000" stroke-width="2.6"/>
<circle cx="925.6" cy="206.2" r="6.8" fill="#fff" stroke="#000" stroke-width="2.6"/>
<circle cx="925.6" cy="256.6" r="6.8" fill="#fff" stroke="#000" stroke-width="2.6"/>
<circle cx="957.4" cy="350.2" r="6.8" fill="#fff" stroke="#000" stroke-width="2.6"/>
<circle cx="966.6" cy="351.9" r="6.8" fill="#fff" stroke="#000" stroke-width="2.6"/>
<circle cx="976.8" cy="354.3" r="6.8" fill="#fff" stroke="#000" stroke-width="2.6"/>
<circle cx="974.5" cy="367.8" r="6.8" fill="#fff" stroke="#000" stroke-width="2.6"/>
<circle cx="1014.9" cy="216.3" r="6.8" fill="#fff" stroke="#000" stroke-width="2.6"/>
<circle cx="1014.9" cy="251.8" r="6.8" fill="#fff" stroke="#000" stroke-width="2.6"/>
<circle cx="1009.4" cy="263.6" r="6.8" fill="#fff" stroke="#000" stroke-width="2.6"/>
<circle cx="1021" cy="279.4" r="6.8" fill="#fff" stroke="#000" stroke-width="2.6"/>
<circle cx="1054" cy="236.6" r="6.8" fill="#fff" stroke="#000" stroke-width="2.6"/>
<circle cx="1059.5" cy="238.1" r="6.8" fill="#fff" stroke="#000" stroke-width="2.6"/>
<circle cx="1066" cy="240.9" r="6.8" fill="#fff" stroke="#000" stroke-width="2.6"/>
<circle cx="1060.1" cy="289.2" r="6.8" fill="#fff" stroke="#000" stroke-width="2.6"/>
<circle cx="1106.7" cy="187.4" r="6.8" fill="#fff" stroke="#000" stroke-width="2.6"/>
<circle cx="1097.5" cy="209.8" r="6.8" fill="#fff" stroke="#000" stroke-width="2.6"/>
<circle cx="1109.5" cy="217.4" r="6.8" fill="#fff" stroke="#000" stroke-width="2.6"/>
<circle cx="1103.4" cy="251.2" r="6.8" fill="#fff" stroke="#000" stroke-width="2.6"/>
<circle cx="1138.2" cy="357.7" r="6.8" fill="#fff" stroke="#000" stroke-width="2.6"/>
<circle cx="1147" cy="362" r="6.8" fill="#fff" stroke="#000" stroke-width="2.6"/>
<circle cx="1150.8" cy="360.6" r="6.8" fill="#fff" stroke="#000" stroke-width="2.6"/>
<circle cx="1151.9" cy="370.1" r="6.8" fill="#fff" stroke="#000" stroke-width="2.6"/>
<circle cx="1200.3" cy="168.8" r="6.8" fill="#fff" stroke="#000" stroke-width="2.6"/>
<circle cx="1200.3" cy="196.7" r="6.8" fill="#fff" stroke="#000" stroke-width="2.6"/>
<circle cx="1194.8" cy="233" r="6.8" fill="#fff" stroke="#000" stroke-width="2.6"/>
<circle cx="1206" cy="242.4" r="6.8" fill="#fff" stroke="#000" stroke-width="2.6"/>
<circle cx="1235.8" cy="206" r="6.8" fill="#fff" stroke="#000" stroke-width="2.6"/>
<circle cx="1241.2" cy="209" r="6.8" fill="#fff" stroke="#000" stroke-width="2.6"/>
<circle cx="1249.4" cy="226.4" r="6.8" fill="#fff" stroke="#000" stroke-width="2.6"/>
<circle cx="1243.3" cy="248.5" r="6.8" fill="#fff" stroke="#000" stroke-width="2.6"/>
<circle cx="1282.7" cy="153.6" r="6.8" fill="#fff" stroke="#000" stroke-width="2.6"/>
<circle cx="1288.2" cy="180" r="6.8" fill="#fff" stroke="#000" stroke-width="2.6"/>
<circle cx="1281.2" cy="237" r="6.8" fill="#fff" stroke="#000" stroke-width="2.6"/>
<circle cx="1292.4" cy="245.2" r="6.8" fill="#fff" stroke="#000" stroke-width="2.6"/>
<circle cx="1325.2" cy="162.7" r="6.8" fill="#fff" stroke="#000" stroke-width="2.6"/>
<circle cx="1337.3" cy="167.3" r="6.8" fill="#fff" stroke="#000" stroke-width="2.6"/>
<circle cx="1324.5" cy="233" r="6.8" fill="#fff" stroke="#000" stroke-width="2.6"/>
<circle cx="1335.8" cy="243" r="6.8" fill="#fff" stroke="#000" stroke-width="2.6"/>
<polyline points="923.7,135.3 923.7,61.1 1325.6,61.1 1325.6,123.6" fill="none" stroke="#000" stroke-width="2.6" stroke-linejoin="miter" stroke-linecap="butt"/>
<line x1="1192" y1="61.1" x2="1192" y2="123.6" stroke="#000" stroke-width="2.6" stroke-linecap="butt"/>
<line x1="1235" y1="61.1" x2="1235" y2="123.6" stroke="#000" stroke-width="2.6" stroke-linecap="butt"/>
<line x1="1280.5" y1="61.1" x2="1280.5" y2="123.6" stroke="#000" stroke-width="2.6" stroke-linecap="butt"/>
<line x1="923.7" y1="105.6" x2="968.8" y2="105.6" stroke="#000" stroke-width="2.6" stroke-linecap="butt"/>
<polyline points="968.8,235.5 968.8,94.6 1148.5,94.6 1148.5,289" fill="none" stroke="#000" stroke-width="2.6" stroke-linejoin="miter" stroke-linecap="butt"/>
<polyline points="968.8,122.6 1103.4,122.6 1103.4,170.4" fill="none" stroke="#000" stroke-width="2.6" stroke-linejoin="miter" stroke-linecap="butt"/>
<polyline points="968.8,149.7 1061.7,149.7 1061.7,200.5" fill="none" stroke="#000" stroke-width="2.6" stroke-linejoin="miter" stroke-linecap="butt"/>
<polyline points="968.8,179.4 1014.9,179.4 1014.9,197.1" fill="none" stroke="#000" stroke-width="2.6" stroke-linejoin="miter" stroke-linecap="butt"/>
<text x="1135" y="53.9" font-size="25" text-anchor="middle">ns</text>
<text x="934.4" y="86.2" font-size="20.7" text-anchor="start">&lt;0.0001</text>
<text x="1062.2" y="86.5" font-size="25" text-anchor="middle">ns</text>
<text x="998" y="116.3" font-size="20.7" text-anchor="start">&lt;0.0001</text>
<text x="986.8" y="145.2" font-size="20.7" text-anchor="start">0.0008</text>
<text x="981.8" y="173.4" font-size="20.7" text-anchor="start">0.001</text>
<text x="920.8" y="30.5" font-size="25" text-anchor="start"><tspan font-style="italic">p</tspan> value</text>
<text x="809.05" y="30.6" font-size="42.5" text-anchor="middle" font-weight="bold">b</text>
<text x="818.5" y="243" font-size="25.1" text-anchor="middle" transform="rotate(-90 818.5 243)">IFNγ+ NK cells (%)</text>
<text x="894.5" y="453.8" font-size="25" text-anchor="end">NK</text>
<text x="925.8" y="456.55" font-size="26" text-anchor="middle">+</text>
<text x="969" y="456.55" font-size="26" text-anchor="middle">+</text>
<text x="1015.3" y="456.55" font-size="26" text-anchor="middle">+</text>
<text x="1060.4" y="456.55" font-size="26" text-anchor="middle">+</text>
<text x="1103.8" y="456.55" font-size="26" text-anchor="middle">+</text>
<text x="1147" y="456.55" font-size="26" text-anchor="middle">+</text>
<text x="1200" y="456.55" font-size="26" text-anchor="middle">+</text>
<text x="1243.3" y="456.55" font-size="26" text-anchor="middle">+</text>
<text x="1286.4" y="456.55" font-size="26" text-anchor="middle">+</text>
<text x="1329.8" y="456.55" font-size="26" text-anchor="middle">+</text>
<text x="894.5" y="489.85" font-size="25" text-anchor="end">Neu</text>
<text x="925.8" y="490.2" font-size="25" text-anchor="middle">–</text>
<text x="969" y="494.45" font-size="26" text-anchor="middle">+</text>
<text x="1015.3" y="494.45" font-size="26" text-anchor="middle">+</text>
<text x="1060.4" y="494.45" font-size="26" text-anchor="middle">+</text>
<text x="1103.8" y="494.45" font-size="26" text-anchor="middle">+</text>
<text x="1147" y="494.45" font-size="26" text-anchor="middle">+</text>
<text x="1200" y="490.2" font-size="25" text-anchor="middle">–</text>
<text x="1243.3" y="490.2" font-size="25" text-anchor="middle">–</text>
<text x="1286.4" y="490.2" font-size="25" text-anchor="middle">–</text>
<text x="1329.8" y="490.2" font-size="25" text-anchor="middle">–</text>
<text x="894.5" y="527.7" font-size="25" text-anchor="end">Apocynin</text>
<text x="925.8" y="528.9" font-size="25" text-anchor="middle">–</text>
<text x="969" y="528.9" font-size="25" text-anchor="middle">–</text>
<text x="1015.3" y="533.15" font-size="26" text-anchor="middle">+</text>
<text x="1060.4" y="528.9" font-size="25" text-anchor="middle">–</text>
<text x="1103.8" y="528.9" font-size="25" text-anchor="middle">–</text>
<text x="1147" y="528.9" font-size="25" text-anchor="middle">–</text>
<text x="1200" y="533.15" font-size="26" text-anchor="middle">+</text>
<text x="1243.3" y="528.9" font-size="25" text-anchor="middle">–</text>
<text x="1286.4" y="528.9" font-size="25" text-anchor="middle">–</text>
<text x="1329.8" y="528.9" font-size="25" text-anchor="middle">–</text>
<text x="894.5" y="570" font-size="25" text-anchor="end">HDC</text>
<text x="925.8" y="568.8" font-size="25" text-anchor="middle">–</text>
<text x="969" y="568.8" font-size="25" text-anchor="middle">–</text>
<text x="1015.3" y="568.8" font-size="25" text-anchor="middle">–</text>
<text x="1060.4" y="572.85" font-size="26" text-anchor="middle">+</text>
<text x="1103.8" y="568.8" font-size="25" text-anchor="middle">–</text>
<text x="1147" y="568.8" font-size="25" text-anchor="middle">–</text>
<text x="1200" y="568.8" font-size="25" text-anchor="middle">–</text>
<text x="1243.3" y="572.85" font-size="26" text-anchor="middle">+</text>
<text x="1286.4" y="568.8" font-size="25" text-anchor="middle">–</text>
<text x="1329.8" y="568.8" font-size="25" text-anchor="middle">–</text>
<text x="894.5" y="608.7" font-size="25" text-anchor="end">Catalase</text>
<text x="925.8" y="609.8" font-size="25" text-anchor="middle">–</text>
<text x="969" y="609.8" font-size="25" text-anchor="middle">–</text>
<text x="1015.3" y="609.8" font-size="25" text-anchor="middle">–</text>
<text x="1060.4" y="609.8" font-size="25" text-anchor="middle">–</text>
<text x="1103.8" y="614.65" font-size="26" text-anchor="middle">+</text>
<text x="1147" y="608.9" font-size="25" text-anchor="middle">–</text>
<text x="1200" y="609.8" font-size="25" text-anchor="middle">–</text>
<text x="1243.3" y="609.8" font-size="25" text-anchor="middle">–</text>
<text x="1286.4" y="614.65" font-size="26" text-anchor="middle">+</text>
<text x="1329.8" y="608.9" font-size="25" text-anchor="middle">–</text>
<text x="894.5" y="652.6" font-size="25" text-anchor="end">1400W</text>
<text x="925.8" y="652.6" font-size="25" text-anchor="middle">–</text>
<text x="969" y="652.6" font-size="25" text-anchor="middle">–</text>
<text x="1015.3" y="652.6" font-size="25" text-anchor="middle">–</text>
<text x="1060.4" y="652.6" font-size="25" text-anchor="middle">–</text>
<text x="1103.8" y="653.1" font-size="25" text-anchor="middle">–</text>
<text x="1147" y="656.35" font-size="26" text-anchor="middle">+</text>
<text x="1200" y="652.6" font-size="25" text-anchor="middle">–</text>
<text x="1243.3" y="652.6" font-size="25" text-anchor="middle">–</text>
<text x="1286.4" y="654.7" font-size="25" text-anchor="middle">–</text>
<text x="1329.8" y="656.35" font-size="26" text-anchor="middle">+</text>
<line x1="1510.4" y1="64.13" x2="1510.4" y2="419.55" stroke="#000" stroke-width="2.7" stroke-linecap="butt"/>
<line x1="1497.7" y1="418.2" x2="1510.4" y2="418.2" stroke="#000" stroke-width="2.7" stroke-linecap="butt"/>
<text x="1485.4" y="426.4" font-size="24.6" text-anchor="end">0</text>
<line x1="1497.7" y1="330.02" x2="1510.4" y2="330.02" stroke="#000" stroke-width="2.7" stroke-linecap="butt"/>
<text x="1485.4" y="338.22" font-size="24.6" text-anchor="end">20</text>
<line x1="1497.7" y1="241.84" x2="1510.4" y2="241.84" stroke="#000" stroke-width="2.7" stroke-linecap="butt"/>
<text x="1485.4" y="250.04" font-size="24.6" text-anchor="end">40</text>
<line x1="1497.7" y1="153.66" x2="1510.4" y2="153.66" stroke="#000" stroke-width="2.7" stroke-linecap="butt"/>
<text x="1485.4" y="161.86" font-size="24.6" text-anchor="end">60</text>
<line x1="1497.7" y1="65.48" x2="1510.4" y2="65.48" stroke="#000" stroke-width="2.7" stroke-linecap="butt"/>
<text x="1485.4" y="73.68" font-size="24.6" text-anchor="end">80</text>
<path d="M1525.75,418.2 V221.5 H1552.65 V418.2" fill="#000" stroke="#000" stroke-width="2.8" stroke-linejoin="miter"/>
<path d="M1573.35,418.2 V322 H1600.25 V418.2" fill="#ff0000" stroke="#000" stroke-width="2.8" stroke-linejoin="miter"/>
<path d="M1616.05,418.2 V251.6 H1642.95 V418.2" fill="#ff8000" stroke="#000" stroke-width="2.8" stroke-linejoin="miter"/>
<path d="M1660.45,418.2 V251.6 H1687.35 V418.2" fill="#ff8000" stroke="#000" stroke-width="2.8" stroke-linejoin="miter"/>
<path d="M1704.25,418.2 V239.2 H1731.15 V418.2" fill="#ff8000" stroke="#000" stroke-width="2.8" stroke-linejoin="miter"/>
<path d="M1750.35,418.2 V318.5 H1777.25 V418.2" fill="#ff8000" stroke="#000" stroke-width="2.8" stroke-linejoin="miter"/>
<path d="M1794.35,418.2 V234.8 H1821.25 V418.2" fill="#a2a1a6" stroke="#000" stroke-width="2.8" stroke-linejoin="miter"/>
<path d="M1837.55,418.2 V242 H1864.45 V418.2" fill="#a2a1a6" stroke="#000" stroke-width="2.8" stroke-linejoin="miter"/>
<path d="M1883.25,418.2 V241.3 H1910.15 V418.2" fill="#a2a1a6" stroke="#000" stroke-width="2.8" stroke-linejoin="miter"/>
<path d="M1927.75,418.2 V244.2 H1954.65 V418.2" fill="#a2a1a6" stroke="#000" stroke-width="2.8" stroke-linejoin="miter"/>
<line x1="1497.6" y1="418.2" x2="1975" y2="418.2" stroke="#000" stroke-width="2.7" stroke-linecap="butt"/>
<line x1="1539.2" y1="201.6" x2="1539.2" y2="241" stroke="#000" stroke-width="2.6" stroke-linecap="butt"/>
<line x1="1532.2" y1="201.6" x2="1546.2" y2="201.6" stroke="#000" stroke-width="2.6" stroke-linecap="butt"/>
<line x1="1532.2" y1="241" x2="1546.2" y2="241" stroke="#000" stroke-width="2.6" stroke-linecap="butt"/>
<line x1="1586.8" y1="301.4" x2="1586.8" y2="340.1" stroke="#000" stroke-width="2.6" stroke-linecap="butt"/>
<line x1="1579.8" y1="301.4" x2="1593.8" y2="301.4" stroke="#000" stroke-width="2.6" stroke-linecap="butt"/>
<line x1="1579.8" y1="340.1" x2="1593.8" y2="340.1" stroke="#000" stroke-width="2.6" stroke-linecap="butt"/>
<line x1="1629.5" y1="246" x2="1629.5" y2="257" stroke="#000" stroke-width="2.6" stroke-linecap="butt"/>
<line x1="1622.5" y1="246" x2="1636.5" y2="246" stroke="#000" stroke-width="2.6" stroke-linecap="butt"/>
<line x1="1622.5" y1="257" x2="1636.5" y2="257" stroke="#000" stroke-width="2.6" stroke-linecap="butt"/>
<line x1="1673.9" y1="238" x2="1673.9" y2="259" stroke="#000" stroke-width="2.6" stroke-linecap="butt"/>
<line x1="1666.9" y1="238" x2="1680.9" y2="238" stroke="#000" stroke-width="2.6" stroke-linecap="butt"/>
<line x1="1666.9" y1="259" x2="1680.9" y2="259" stroke="#000" stroke-width="2.6" stroke-linecap="butt"/>
<line x1="1717.7" y1="225.3" x2="1717.7" y2="249.1" stroke="#000" stroke-width="2.6" stroke-linecap="butt"/>
<line x1="1710.7" y1="225.3" x2="1724.7" y2="225.3" stroke="#000" stroke-width="2.6" stroke-linecap="butt"/>
<line x1="1710.7" y1="249.1" x2="1724.7" y2="249.1" stroke="#000" stroke-width="2.6" stroke-linecap="butt"/>
<line x1="1763.8" y1="299.4" x2="1763.8" y2="332.9" stroke="#000" stroke-width="2.6" stroke-linecap="butt"/>
<line x1="1756.8" y1="299.4" x2="1770.8" y2="299.4" stroke="#000" stroke-width="2.6" stroke-linecap="butt"/>
<line x1="1756.8" y1="332.9" x2="1770.8" y2="332.9" stroke="#000" stroke-width="2.6" stroke-linecap="butt"/>
<line x1="1807.8" y1="214.5" x2="1807.8" y2="252.7" stroke="#000" stroke-width="2.6" stroke-linecap="butt"/>
<line x1="1800.8" y1="214.5" x2="1814.8" y2="214.5" stroke="#000" stroke-width="2.6" stroke-linecap="butt"/>
<line x1="1800.8" y1="252.7" x2="1814.8" y2="252.7" stroke="#000" stroke-width="2.6" stroke-linecap="butt"/>
<line x1="1851" y1="232" x2="1851" y2="252.2" stroke="#000" stroke-width="2.6" stroke-linecap="butt"/>
<line x1="1844" y1="232" x2="1858" y2="232" stroke="#000" stroke-width="2.6" stroke-linecap="butt"/>
<line x1="1844" y1="252.2" x2="1858" y2="252.2" stroke="#000" stroke-width="2.6" stroke-linecap="butt"/>
<line x1="1896.7" y1="227" x2="1896.7" y2="251.7" stroke="#000" stroke-width="2.6" stroke-linecap="butt"/>
<line x1="1889.7" y1="227" x2="1903.7" y2="227" stroke="#000" stroke-width="2.6" stroke-linecap="butt"/>
<line x1="1889.7" y1="251.7" x2="1903.7" y2="251.7" stroke="#000" stroke-width="2.6" stroke-linecap="butt"/>
<line x1="1941.2" y1="227.8" x2="1941.2" y2="255" stroke="#000" stroke-width="2.6" stroke-linecap="butt"/>
<line x1="1934.2" y1="227.8" x2="1948.2" y2="227.8" stroke="#000" stroke-width="2.6" stroke-linecap="butt"/>
<line x1="1934.2" y1="255" x2="1948.2" y2="255" stroke="#000" stroke-width="2.6" stroke-linecap="butt"/>
<circle cx="1533.5" cy="203.4" r="6.9" fill="#fff" stroke="#000" stroke-width="2.6"/>
<circle cx="1537.6" cy="213.2" r="6.9" fill="#fff" stroke="#000" stroke-width="2.6"/>
<circle cx="1545.1" cy="217.3" r="6.9" fill="#fff" stroke="#000" stroke-width="2.6"/>
<circle cx="1539.3" cy="247.1" r="6.9" fill="#fff" stroke="#000" stroke-width="2.6"/>
<circle cx="1581.3" cy="301" r="6.9" fill="#fff" stroke="#000" stroke-width="2.6"/>
<circle cx="1592.9" cy="319.2" r="6.9" fill="#fff" stroke="#000" stroke-width="2.6"/>
<circle cx="1586.8" cy="314.1" r="6.9" fill="#fff" stroke="#000" stroke-width="2.6"/>
<circle cx="1586.8" cy="347.2" r="6.9" fill="#fff" stroke="#000" stroke-width="2.6"/>
<circle cx="1629.6" cy="236.5" r="6.9" fill="#fff" stroke="#000" stroke-width="2.6"/>
<circle cx="1624" cy="243.6" r="6.9" fill="#fff" stroke="#000" stroke-width="2.6"/>
<circle cx="1635.3" cy="261.8" r="6.9" fill="#fff" stroke="#000" stroke-width="2.6"/>
<circle cx="1629.1" cy="257.7" r="6.9" fill="#fff" stroke="#000" stroke-width="2.6"/>
<circle cx="1668.4" cy="235.4" r="6.9" fill="#fff" stroke="#000" stroke-width="2.6"/>
<circle cx="1680" cy="239.2" r="6.9" fill="#fff" stroke="#000" stroke-width="2.6"/>
<circle cx="1668.1" cy="260.8" r="6.9" fill="#fff" stroke="#000" stroke-width="2.6"/>
<circle cx="1679.7" cy="264.5" r="6.9" fill="#fff" stroke="#000" stroke-width="2.6"/>
<circle cx="1723.5" cy="224.9" r="6.9" fill="#fff" stroke="#000" stroke-width="2.6"/>
<circle cx="1711.2" cy="234.4" r="6.9" fill="#fff" stroke="#000" stroke-width="2.6"/>
<circle cx="1720.3" cy="237.2" r="6.9" fill="#fff" stroke="#000" stroke-width="2.6"/>
<circle cx="1722.8" cy="252.9" r="6.9" fill="#fff" stroke="#000" stroke-width="2.6"/>
<circle cx="1756.3" cy="301" r="6.9" fill="#fff" stroke="#000" stroke-width="2.6"/>
<circle cx="1759" cy="309.6" r="6.9" fill="#fff" stroke="#000" stroke-width="2.6"/>
<circle cx="1770" cy="314.7" r="6.9" fill="#fff" stroke="#000" stroke-width="2.6"/>
<circle cx="1763.8" cy="339.3" r="6.9" fill="#fff" stroke="#000" stroke-width="2.6"/>
<circle cx="1807.6" cy="205.3" r="6.9" fill="#fff" stroke="#000" stroke-width="2.6"/>
<circle cx="1806" cy="243" r="6.9" fill="#fff" stroke="#000" stroke-width="2.6"/>
<circle cx="1802.2" cy="240.8" r="6.9" fill="#fff" stroke="#000" stroke-width="2.6"/>
<circle cx="1813.6" cy="247.8" r="6.9" fill="#fff" stroke="#000" stroke-width="2.6"/>
<circle cx="1843.7" cy="228.3" r="6.9" fill="#fff" stroke="#000" stroke-width="2.6"/>
<circle cx="1858.5" cy="233.4" r="6.9" fill="#fff" stroke="#000" stroke-width="2.6"/>
<circle cx="1845.7" cy="243.3" r="6.9" fill="#fff" stroke="#000" stroke-width="2.6"/>
<circle cx="1857" cy="255.2" r="6.9" fill="#fff" stroke="#000" stroke-width="2.6"/>
<circle cx="1892.6" cy="222.1" r="6.9" fill="#fff" stroke="#000" stroke-width="2.6"/>
<circle cx="1890.1" cy="239.9" r="6.9" fill="#fff" stroke="#000" stroke-width="2.6"/>
<circle cx="1897" cy="242.3" r="6.9" fill="#fff" stroke="#000" stroke-width="2.6"/>
<circle cx="1902.4" cy="253.2" r="6.9" fill="#fff" stroke="#000" stroke-width="2.6"/>
<circle cx="1946.4" cy="221.6" r="6.9" fill="#fff" stroke="#000" stroke-width="2.6"/>
<circle cx="1935" cy="242.8" r="6.9" fill="#fff" stroke="#000" stroke-width="2.6"/>
<circle cx="1939" cy="247.3" r="6.9" fill="#fff" stroke="#000" stroke-width="2.6"/>
<circle cx="1947.4" cy="253.2" r="6.9" fill="#fff" stroke="#000" stroke-width="2.6"/>
<polyline points="1538,170.4 1538,65.8 1941.3,65.8 1941.3,182.1" fill="none" stroke="#000" stroke-width="2.6" stroke-linejoin="miter" stroke-linecap="butt"/>
<line x1="1807.6" y1="65.8" x2="1807.6" y2="182.1" stroke="#000" stroke-width="2.6" stroke-linecap="butt"/>
<line x1="1851.1" y1="65.8" x2="1851.1" y2="182.1" stroke="#000" stroke-width="2.6" stroke-linecap="butt"/>
<line x1="1896.2" y1="65.8" x2="1896.2" y2="182.1" stroke="#000" stroke-width="2.6" stroke-linecap="butt"/>
<line x1="1538" y1="111.9" x2="1585.5" y2="111.9" stroke="#000" stroke-width="2.6" stroke-linecap="butt"/>
<polyline points="1585.5,266.6 1585.5,100.2 1764.2,100.2 1764.2,267.3" fill="none" stroke="#000" stroke-width="2.6" stroke-linejoin="miter" stroke-linecap="butt"/>
<polyline points="1585.5,128.2 1717.4,128.2 1717.4,185.4" fill="none" stroke="#000" stroke-width="2.6" stroke-linejoin="miter" stroke-linecap="butt"/>
<polyline points="1585.5,154.7 1673.8,154.7 1673.8,207.2" fill="none" stroke="#000" stroke-width="2.6" stroke-linejoin="miter" stroke-linecap="butt"/>
<polyline points="1585.5,181.4 1629.3,181.4 1629.3,218.8" fill="none" stroke="#000" stroke-width="2.6" stroke-linejoin="miter" stroke-linecap="butt"/>
<text x="1749.3" y="57.7" font-size="25" text-anchor="middle">ns</text>
<text x="1549.2" y="94.1" font-size="20.7" text-anchor="start">&lt;0.0001</text>
<text x="1688.2" y="92.8" font-size="25" text-anchor="middle">ns</text>
<text x="1601" y="121.8" font-size="20.7" text-anchor="start">&lt;0.0001</text>
<text x="1599.8" y="150.4" font-size="20.7" text-anchor="start">&lt;0.0001</text>
<text x="1589.8" y="176" font-size="20.7" text-anchor="start">&lt;0.0001</text>
<text x="1541.3" y="35.3" font-size="25" text-anchor="start"><tspan font-style="italic">p</tspan> value</text>
<text x="1425.75" y="26.9" font-size="42.5" text-anchor="middle" font-weight="bold">c</text>
<text x="1436" y="245.6" font-size="25.2" text-anchor="middle" transform="rotate(-90 1436 245.6)">AT3 killed (%)</text>
<text x="1512" y="455.6" font-size="25" text-anchor="end">NK</text>
<text x="1539.2" y="458.05" font-size="26" text-anchor="middle">+</text>
<text x="1586.9" y="458.05" font-size="26" text-anchor="middle">+</text>
<text x="1629.2" y="458.05" font-size="26" text-anchor="middle">+</text>
<text x="1673.7" y="458.05" font-size="26" text-anchor="middle">+</text>
<text x="1717.2" y="458.05" font-size="26" text-anchor="middle">+</text>
<text x="1763.9" y="458.05" font-size="26" text-anchor="middle">+</text>
<text x="1807.5" y="458.05" font-size="26" text-anchor="middle">+</text>
<text x="1851.3" y="458.05" font-size="26" text-anchor="middle">+</text>
<text x="1896.5" y="458.05" font-size="26" text-anchor="middle">+</text>
<text x="1941.1" y="458.05" font-size="26" text-anchor="middle">+</text>
<text x="1512" y="491.1" font-size="25" text-anchor="end">Neu</text>
<text x="1539.2" y="491.1" font-size="25" text-anchor="middle">–</text>
<text x="1586.9" y="493.65" font-size="26" text-anchor="middle">+</text>
<text x="1629.2" y="493.65" font-size="26" text-anchor="middle">+</text>
<text x="1673.7" y="493.65" font-size="26" text-anchor="middle">+</text>
<text x="1717.2" y="493.65" font-size="26" text-anchor="middle">+</text>
<text x="1763.9" y="493.65" font-size="26" text-anchor="middle">+</text>
<text x="1807.5" y="491.1" font-size="25" text-anchor="middle">–</text>
<text x="1851.3" y="491.1" font-size="25" text-anchor="middle">–</text>
<text x="1896.5" y="491.1" font-size="25" text-anchor="middle">–</text>
<text x="1941.1" y="491.1" font-size="25" text-anchor="middle">–</text>
<text x="1512" y="529.6" font-size="25" text-anchor="end">Apocynin</text>
<text x="1539.2" y="529.4" font-size="25" text-anchor="middle">–</text>
<text x="1586.9" y="529.4" font-size="25" text-anchor="middle">–</text>
<text x="1629.2" y="531.55" font-size="26" text-anchor="middle">+</text>
<text x="1673.7" y="529.4" font-size="25" text-anchor="middle">–</text>
<text x="1717.2" y="529.4" font-size="25" text-anchor="middle">–</text>
<text x="1763.9" y="529.4" font-size="25" text-anchor="middle">–</text>
<text x="1807.5" y="531.55" font-size="26" text-anchor="middle">+</text>
<text x="1851.3" y="529.4" font-size="25" text-anchor="middle">–</text>
<text x="1896.5" y="529.4" font-size="25" text-anchor="middle">–</text>
<text x="1941.1" y="529.4" font-size="25" text-anchor="middle">–</text>
<text x="1512" y="571.6" font-size="25" text-anchor="end">HDC</text>
<text x="1539.2" y="571.3" font-size="25" text-anchor="middle">–</text>
<text x="1586.9" y="571.3" font-size="25" text-anchor="middle">–</text>
<text x="1629.2" y="571.3" font-size="25" text-anchor="middle">–</text>
<text x="1673.7" y="573.25" font-size="26" text-anchor="middle">+</text>
<text x="1717.2" y="571.3" font-size="25" text-anchor="middle">–</text>
<text x="1763.9" y="571.3" font-size="25" text-anchor="middle">–</text>
<text x="1807.5" y="571.3" font-size="25" text-anchor="middle">–</text>
<text x="1851.3" y="573.25" font-size="26" text-anchor="middle">+</text>
<text x="1896.5" y="571.3" font-size="25" text-anchor="middle">–</text>
<text x="1941.1" y="571.3" font-size="25" text-anchor="middle">–</text>
<text x="1512" y="610.9" font-size="25" text-anchor="end">Catalase</text>
<text x="1539.2" y="611" font-size="25" text-anchor="middle">–</text>
<text x="1586.9" y="611" font-size="25" text-anchor="middle">–</text>
<text x="1629.2" y="611" font-size="25" text-anchor="middle">–</text>
<text x="1673.7" y="611" font-size="25" text-anchor="middle">–</text>
<text x="1717.2" y="613.05" font-size="26" text-anchor="middle">+</text>
<text x="1763.9" y="611" font-size="25" text-anchor="middle">–</text>
<text x="1807.5" y="611" font-size="25" text-anchor="middle">–</text>
<text x="1851.3" y="611" font-size="25" text-anchor="middle">–</text>
<text x="1896.5" y="613.05" font-size="26" text-anchor="middle">+</text>
<text x="1941.1" y="611" font-size="25" text-anchor="middle">–</text>
<text x="1512" y="654.6" font-size="25" text-anchor="end">1400W</text>
<text x="1539.2" y="654.8" font-size="25" text-anchor="middle">–</text>
<text x="1586.9" y="654.8" font-size="25" text-anchor="middle">–</text>
<text x="1629.2" y="654.8" font-size="25" text-anchor="middle">–</text>
<text x="1673.7" y="654.8" font-size="25" text-anchor="middle">–</text>
<text x="1717.2" y="654.8" font-size="25" text-anchor="middle">–</text>
<text x="1763.9" y="656.75" font-size="26" text-anchor="middle">+</text>
<text x="1807.5" y="654.8" font-size="25" text-anchor="middle">–</text>
<text x="1851.3" y="654.8" font-size="25" text-anchor="middle">–</text>
<text x="1896.5" y="654.8" font-size="25" text-anchor="middle">–</text>
<text x="1941.1" y="656.75" font-size="26" text-anchor="middle">+</text>
<line x1="117.9" y1="868.85" x2="117.9" y2="1192.75" stroke="#000" stroke-width="2.7" stroke-linecap="butt"/>
<line x1="109.9" y1="1191.4" x2="117.9" y2="1191.4" stroke="#000" stroke-width="2.7" stroke-linecap="butt"/>
<text x="98.2" y="1200.2" font-size="24.4" text-anchor="end">0</text>
<line x1="109.9" y1="1111.1" x2="117.9" y2="1111.1" stroke="#000" stroke-width="2.7" stroke-linecap="butt"/>
<text x="98.2" y="1119.9" font-size="24.4" text-anchor="end">1</text>
<line x1="109.9" y1="1030.8" x2="117.9" y2="1030.8" stroke="#000" stroke-width="2.7" stroke-linecap="butt"/>
<text x="98.2" y="1039.6" font-size="24.4" text-anchor="end">2</text>
<line x1="109.9" y1="950.5" x2="117.9" y2="950.5" stroke="#000" stroke-width="2.7" stroke-linecap="butt"/>
<text x="98.2" y="959.3" font-size="24.4" text-anchor="end">3</text>
<line x1="109.9" y1="870.2" x2="117.9" y2="870.2" stroke="#000" stroke-width="2.7" stroke-linecap="butt"/>
<text x="98.2" y="879" font-size="24.4" text-anchor="end">4</text>
<path d="M145.15,1191.4 V1112.8 H191.45 V1191.4" fill="#bfc0c2" stroke="#000" stroke-width="2.8" stroke-linejoin="miter"/>
<path d="M219.05,1191.4 V1100.4 H265.35 V1191.4" fill="#6d6e71" stroke="#000" stroke-width="2.8" stroke-linejoin="miter"/>
<path d="M293.25,1191.4 V963.9 H339.55 V1191.4" fill="#f9a1a3" stroke="#000" stroke-width="2.8" stroke-linejoin="miter"/>
<path d="M367.75,1191.4 V1114.1 H414.05 V1191.4" fill="#f54345" stroke="#000" stroke-width="2.8" stroke-linejoin="miter"/>
<line x1="109.9" y1="1191.4" x2="442" y2="1191.4" stroke="#000" stroke-width="2.7" stroke-linecap="butt"/>
<line x1="168.3" y1="1191.4" x2="168.3" y2="1201" stroke="#000" stroke-width="2.5" stroke-linecap="butt"/>
<line x1="242.2" y1="1191.4" x2="242.2" y2="1201" stroke="#000" stroke-width="2.5" stroke-linecap="butt"/>
<line x1="316.4" y1="1191.4" x2="316.4" y2="1201" stroke="#000" stroke-width="2.5" stroke-linecap="butt"/>
<line x1="390.9" y1="1191.4" x2="390.9" y2="1201" stroke="#000" stroke-width="2.5" stroke-linecap="butt"/>
<line x1="168.3" y1="1090.3" x2="168.3" y2="1131.2" stroke="#000" stroke-width="2.6" stroke-linecap="butt"/>
<line x1="156.1" y1="1090.3" x2="180.5" y2="1090.3" stroke="#000" stroke-width="2.6" stroke-linecap="butt"/>
<line x1="156.1" y1="1131.2" x2="180.5" y2="1131.2" stroke="#000" stroke-width="2.6" stroke-linecap="butt"/>
<line x1="242.2" y1="1088.7" x2="242.2" y2="1107.4" stroke="#000" stroke-width="2.6" stroke-linecap="butt"/>
<line x1="230" y1="1088.7" x2="254.4" y2="1088.7" stroke="#000" stroke-width="2.6" stroke-linecap="butt"/>
<line x1="230" y1="1107.4" x2="254.4" y2="1107.4" stroke="#000" stroke-width="2.6" stroke-linecap="butt"/>
<line x1="316.4" y1="924.7" x2="316.4" y2="998.1" stroke="#000" stroke-width="2.6" stroke-linecap="butt"/>
<line x1="304.2" y1="924.7" x2="328.6" y2="924.7" stroke="#000" stroke-width="2.6" stroke-linecap="butt"/>
<line x1="304.2" y1="998.1" x2="328.6" y2="998.1" stroke="#000" stroke-width="2.6" stroke-linecap="butt"/>
<line x1="390.9" y1="1106.1" x2="390.9" y2="1117.5" stroke="#000" stroke-width="2.6" stroke-linecap="butt"/>
<line x1="378.7" y1="1106.1" x2="403.1" y2="1106.1" stroke="#000" stroke-width="2.6" stroke-linecap="butt"/>
<line x1="378.7" y1="1117.5" x2="403.1" y2="1117.5" stroke="#000" stroke-width="2.6" stroke-linecap="butt"/>
<circle cx="168.3" cy="1064.7" r="6.3" fill="#fff" stroke="#000" stroke-width="2.5"/>
<circle cx="168.3" cy="1087.1" r="6.3" fill="#fff" stroke="#000" stroke-width="2.5"/>
<circle cx="158.3" cy="1147" r="6.3" fill="#fff" stroke="#000" stroke-width="2.5"/>
<circle cx="177.5" cy="1144.4" r="6.3" fill="#fff" stroke="#000" stroke-width="2.5"/>
<circle cx="227.2" cy="1082.3" r="6.3" fill="#fff" stroke="#000" stroke-width="2.5"/>
<circle cx="257.5" cy="1078.6" r="6.3" fill="#fff" stroke="#000" stroke-width="2.5"/>
<circle cx="242.2" cy="1091.6" r="6.3" fill="#fff" stroke="#000" stroke-width="2.5"/>
<circle cx="252" cy="1115.6" r="6.3" fill="#fff" stroke="#000" stroke-width="2.5"/>
<circle cx="232.5" cy="1123.5" r="6.3" fill="#fff" stroke="#000" stroke-width="2.5"/>
<circle cx="325.9" cy="893.5" r="6.3" fill="#fff" stroke="#000" stroke-width="2.5"/>
<circle cx="306.4" cy="907.5" r="6.3" fill="#fff" stroke="#000" stroke-width="2.5"/>
<circle cx="316.4" cy="1001.3" r="6.3" fill="#fff" stroke="#000" stroke-width="2.5"/>
<circle cx="316.4" cy="1044.8" r="6.3" fill="#fff" stroke="#000" stroke-width="2.5"/>
<circle cx="381.4" cy="1096.3" r="6.3" fill="#fff" stroke="#000" stroke-width="2.5"/>
<circle cx="400.1" cy="1101.6" r="6.3" fill="#fff" stroke="#000" stroke-width="2.5"/>
<circle cx="375.6" cy="1113.5" r="6.3" fill="#fff" stroke="#000" stroke-width="2.5"/>
<circle cx="390.9" cy="1124.1" r="6.3" fill="#fff" stroke="#000" stroke-width="2.5"/>
<circle cx="405.9" cy="1123.3" r="6.3" fill="#fff" stroke="#000" stroke-width="2.5"/>
<polyline points="170.8,881.9 170.8,813.5 317.5,813.5 317.5,831" fill="none" stroke="#000" stroke-width="2.6" stroke-linejoin="miter" stroke-linecap="butt"/>
<polyline points="318.4,878 318.4,856.9 391.5,856.9 391.5,926.7" fill="none" stroke="#000" stroke-width="2.6" stroke-linejoin="miter" stroke-linecap="butt"/>
<polyline points="168.9,929.3 168.9,906.3 242,906.3 242,929.3" fill="none" stroke="#000" stroke-width="2.6" stroke-linejoin="miter" stroke-linecap="butt"/>
<text x="188.7" y="801.7" font-size="24.6" text-anchor="start"><tspan font-style="italic">p</tspan> = 0.0007</text>
<text x="326.4" y="846" font-size="24.6" text-anchor="start"><tspan font-style="italic">p</tspan> = 0.0004</text>
<text x="205.5" y="899.8" font-size="24.6" text-anchor="middle">ns</text>
<text x="168.9" y="1230.2" font-size="23.1" text-anchor="middle">IgG</text>
<text x="243" y="1230.2" font-size="23.1" text-anchor="middle">Ly6Gab</text>
<text x="316.95" y="1230.2" font-size="23.1" text-anchor="middle">IgG</text>
<text x="392.65" y="1230.2" font-size="23.1" text-anchor="middle">Ly6Gab</text>
<line x1="159.4" y1="1248.3" x2="257" y2="1248.3" stroke="#000" stroke-width="2.6" stroke-linecap="butt"/>
<line x1="311.5" y1="1250.2" x2="409.5" y2="1250.2" stroke="#000" stroke-width="2.6" stroke-linecap="butt"/>
<text x="207" y="1279.7" font-size="24" text-anchor="middle">E0771</text>
<text x="358.9" y="1279.7" font-size="24.9" text-anchor="middle">E0771-<tspan font-style="italic">g-csf</tspan></text>
<text x="63.3" y="1033.8" font-size="25" text-anchor="middle" transform="rotate(-90 63.3 1033.8)">Relative ROS levels</text>
<text x="11" y="739.2" font-size="42.5" text-anchor="middle" font-weight="bold">d</text>
<line x1="746.6" y1="911.55" x2="746.6" y2="1231.05" stroke="#000" stroke-width="2.7" stroke-linecap="butt"/>
<line x1="728.2" y1="1229.7" x2="746.6" y2="1229.7" stroke="#000" stroke-width="2.7" stroke-linecap="butt"/>
<text x="716.4" y="1238" font-size="24.6" text-anchor="end">0</text>
<line x1="728.2" y1="1124.1" x2="746.6" y2="1124.1" stroke="#000" stroke-width="2.7" stroke-linecap="butt"/>
<text x="716.4" y="1132.4" font-size="24.6" text-anchor="end">10</text>
<line x1="728.2" y1="1018.5" x2="746.6" y2="1018.5" stroke="#000" stroke-width="2.7" stroke-linecap="butt"/>
<text x="716.4" y="1026.8" font-size="24.6" text-anchor="end">20</text>
<line x1="728.2" y1="912.9" x2="746.6" y2="912.9" stroke="#000" stroke-width="2.7" stroke-linecap="butt"/>
<text x="716.4" y="921.2" font-size="24.6" text-anchor="end">30</text>
<path d="M768.8,1229.7 V1027.3 H805.8 V1229.7" fill="#ff8000" stroke="#000" stroke-width="2.8" stroke-linejoin="miter"/>
<path d="M824.8,1229.7 V1195 H861.8 V1229.7" fill="#ff8000" stroke="#000" stroke-width="2.8" stroke-linejoin="miter"/>
<path d="M886.5,1229.7 V1204.1 H923.5 V1229.7" fill="#d4d4d4" stroke="#000" stroke-width="2.8" stroke-linejoin="miter"/>
<path d="M942.8,1229.7 V1195.4 H979.8 V1229.7" fill="#ff8000" stroke="#000" stroke-width="2.8" stroke-linejoin="miter"/>
<path d="M1004.5,1229.7 V1200.6 H1041.5 V1229.7" fill="#d4d4d4" stroke="#000" stroke-width="2.8" stroke-linejoin="miter"/>
<path d="M1063.5,1229.7 V1204.7 H1100.5 V1229.7" fill="#ff8000" stroke="#000" stroke-width="2.8" stroke-linejoin="miter"/>
<path d="M1123.4,1229.7 V1206.7 H1160.4 V1229.7" fill="#d4d4d4" stroke="#000" stroke-width="2.8" stroke-linejoin="miter"/>
<line x1="728.2" y1="1229.7" x2="1182.5" y2="1229.7" stroke="#000" stroke-width="2.7" stroke-linecap="butt"/>
<line x1="787.3" y1="1002" x2="787.3" y2="1048.7" stroke="#000" stroke-width="2.6" stroke-linecap="butt"/>
<line x1="777.3" y1="1002" x2="797.3" y2="1002" stroke="#000" stroke-width="2.6" stroke-linecap="butt"/>
<line x1="777.3" y1="1048.7" x2="797.3" y2="1048.7" stroke="#000" stroke-width="2.6" stroke-linecap="butt"/>
<line x1="843.3" y1="1167.2" x2="843.3" y2="1220.2" stroke="#000" stroke-width="2.6" stroke-linecap="butt"/>
<line x1="833.3" y1="1167.2" x2="853.3" y2="1167.2" stroke="#000" stroke-width="2.6" stroke-linecap="butt"/>
<line x1="833.3" y1="1220.2" x2="853.3" y2="1220.2" stroke="#000" stroke-width="2.6" stroke-linecap="butt"/>
<line x1="905" y1="1183.9" x2="905" y2="1220.2" stroke="#000" stroke-width="2.6" stroke-linecap="butt"/>
<line x1="895" y1="1183.9" x2="915" y2="1183.9" stroke="#000" stroke-width="2.6" stroke-linecap="butt"/>
<line x1="895" y1="1220.2" x2="915" y2="1220.2" stroke="#000" stroke-width="2.6" stroke-linecap="butt"/>
<line x1="961.3" y1="1175.5" x2="961.3" y2="1210.9" stroke="#000" stroke-width="2.6" stroke-linecap="butt"/>
<line x1="951.3" y1="1175.5" x2="971.3" y2="1175.5" stroke="#000" stroke-width="2.6" stroke-linecap="butt"/>
<line x1="951.3" y1="1210.9" x2="971.3" y2="1210.9" stroke="#000" stroke-width="2.6" stroke-linecap="butt"/>
<line x1="1023" y1="1177.5" x2="1023" y2="1220" stroke="#000" stroke-width="2.6" stroke-linecap="butt"/>
<line x1="1013" y1="1177.5" x2="1033" y2="1177.5" stroke="#000" stroke-width="2.6" stroke-linecap="butt"/>
<line x1="1013" y1="1220" x2="1033" y2="1220" stroke="#000" stroke-width="2.6" stroke-linecap="butt"/>
<line x1="1082" y1="1184.6" x2="1082" y2="1221" stroke="#000" stroke-width="2.6" stroke-linecap="butt"/>
<line x1="1072" y1="1184.6" x2="1092" y2="1184.6" stroke="#000" stroke-width="2.6" stroke-linecap="butt"/>
<line x1="1072" y1="1221" x2="1092" y2="1221" stroke="#000" stroke-width="2.6" stroke-linecap="butt"/>
<line x1="1141.9" y1="1195.5" x2="1141.9" y2="1215.4" stroke="#000" stroke-width="2.6" stroke-linecap="butt"/>
<line x1="1131.9" y1="1195.5" x2="1151.9" y2="1195.5" stroke="#000" stroke-width="2.6" stroke-linecap="butt"/>
<line x1="1131.9" y1="1215.4" x2="1151.9" y2="1215.4" stroke="#000" stroke-width="2.6" stroke-linecap="butt"/>
<circle cx="775.3" cy="1008.5" r="6.2" fill="#fff" stroke="#000" stroke-width="2.5"/>
<circle cx="787.3" cy="1009.8" r="6.2" fill="#fff" stroke="#000" stroke-width="2.5"/>
<circle cx="799.1" cy="1024.6" r="6.2" fill="#fff" stroke="#000" stroke-width="2.5"/>
<circle cx="787.3" cy="1059" r="6.2" fill="#fff" stroke="#000" stroke-width="2.5"/>
<circle cx="833.5" cy="1162.5" r="6.2" fill="#fff" stroke="#000" stroke-width="2.5"/>
<circle cx="853" cy="1180" r="6.2" fill="#fff" stroke="#000" stroke-width="2.5"/>
<circle cx="833.5" cy="1214.9" r="6.2" fill="#fff" stroke="#000" stroke-width="2.5"/>
<circle cx="853" cy="1215.3" r="6.2" fill="#fff" stroke="#000" stroke-width="2.5"/>
<circle cx="905" cy="1176.9" r="6.2" fill="#fff" stroke="#000" stroke-width="2.5"/>
<circle cx="893.7" cy="1201.7" r="6.2" fill="#fff" stroke="#000" stroke-width="2.5"/>
<circle cx="905" cy="1209.9" r="6.2" fill="#fff" stroke="#000" stroke-width="2.5"/>
<circle cx="916.7" cy="1219.2" r="6.2" fill="#fff" stroke="#000" stroke-width="2.5"/>
<circle cx="951.4" cy="1174.9" r="6.2" fill="#fff" stroke="#000" stroke-width="2.5"/>
<circle cx="970.9" cy="1182.9" r="6.2" fill="#fff" stroke="#000" stroke-width="2.5"/>
<circle cx="951.4" cy="1201.1" r="6.2" fill="#fff" stroke="#000" stroke-width="2.5"/>
<circle cx="970.9" cy="1214.4" r="6.2" fill="#fff" stroke="#000" stroke-width="2.5"/>
<circle cx="1013.3" cy="1178.5" r="6.2" fill="#fff" stroke="#000" stroke-width="2.5"/>
<circle cx="1032.7" cy="1183.5" r="6.2" fill="#fff" stroke="#000" stroke-width="2.5"/>
<circle cx="1013.3" cy="1212.7" r="6.2" fill="#fff" stroke="#000" stroke-width="2.5"/>
<circle cx="1032.7" cy="1220" r="6.2" fill="#fff" stroke="#000" stroke-width="2.5"/>
<circle cx="1070.5" cy="1186.1" r="6.2" fill="#fff" stroke="#000" stroke-width="2.5"/>
<circle cx="1082" cy="1195.5" r="6.2" fill="#fff" stroke="#000" stroke-width="2.5"/>
<circle cx="1093.8" cy="1201.1" r="6.2" fill="#fff" stroke="#000" stroke-width="2.5"/>
<circle cx="1082" cy="1228.9" r="6.2" fill="#fff" stroke="#000" stroke-width="2.5"/>
<circle cx="1141.9" cy="1190.6" r="6.2" fill="#fff" stroke="#000" stroke-width="2.5"/>
<circle cx="1130.3" cy="1208.7" r="6.2" fill="#fff" stroke="#000" stroke-width="2.5"/>
<circle cx="1141.9" cy="1210.2" r="6.2" fill="#fff" stroke="#000" stroke-width="2.5"/>
<circle cx="1154" cy="1213.9" r="6.2" fill="#fff" stroke="#000" stroke-width="2.5"/>
<line x1="785.8" y1="905.55" x2="785.8" y2="986.6" stroke="#000" stroke-width="2.6" stroke-linecap="butt"/>
<polyline points="785.8,906.8 1082,906.8 1082,1110.6" fill="none" stroke="#000" stroke-width="2.6" stroke-linejoin="miter" stroke-linecap="butt"/>
<polyline points="785.8,941.3 961.3,941.3 961.3,1114.5" fill="none" stroke="#000" stroke-width="2.6" stroke-linejoin="miter" stroke-linecap="butt"/>
<polyline points="785.8,975.5 843.4,975.5 843.4,1118.2" fill="none" stroke="#000" stroke-width="2.6" stroke-linejoin="miter" stroke-linecap="butt"/>
<text x="881.8" y="896.3" font-size="24.3" text-anchor="start"><tspan font-style="italic">p</tspan> &lt; 0.0001</text>
<text x="827.1" y="930.6" font-size="24.3" text-anchor="start"><tspan font-style="italic">p</tspan> &lt; 0.0001</text>
<text x="807.5" y="965.6" font-size="24.3" text-anchor="start"><tspan font-style="italic">p</tspan> &lt; 0.0001</text>
<line x1="766.4" y1="1248.4" x2="806" y2="1248.4" stroke="#000" stroke-width="2.5" stroke-linecap="butt"/>
<line x1="835.8" y1="1248.4" x2="918.3" y2="1248.4" stroke="#000" stroke-width="2.5" stroke-linecap="butt"/>
<line x1="953.7" y1="1248.4" x2="1033.9" y2="1248.4" stroke="#000" stroke-width="2.5" stroke-linecap="butt"/>
<line x1="1069.2" y1="1248.4" x2="1150.4" y2="1248.4" stroke="#000" stroke-width="2.5" stroke-linecap="butt"/>
<text x="739" y="1279.2" font-size="25" text-anchor="start">Vehicle</text>
<text x="832.5" y="1279.2" font-size="25" text-anchor="start">Apocynin</text>
<text x="966.9" y="1279.2" font-size="25" text-anchor="start">HDC</text>
<text x="1061.2" y="1279.2" font-size="25" text-anchor="start">Catalase</text>
<text x="737.6" y="749.3" font-size="25" text-anchor="start">Neu from NOD-<tspan font-style="italic">scid</tspan> mice</text>
<rect x="744.2" y="779.8" width="32.8" height="19.4" fill="#ff8000" stroke="#000" stroke-width="2.7"/>
<rect x="744.2" y="817" width="32.8" height="19.4" fill="#d4d4d4" stroke="#000" stroke-width="2.7"/>
<text x="790" y="797.5" font-size="20.9" text-anchor="start">AT3 + Neu</text>
<text x="790" y="834.3" font-size="20.9" text-anchor="start">AT3</text>
<text x="657.7" y="740.3" font-size="42.5" text-anchor="middle" font-weight="bold">e</text>
<text x="664.3" y="1071.9" font-size="25.1" text-anchor="middle" transform="rotate(-90 664.3 1071.9)">AT3 killed (%)</text>
<line x1="1423.6" y1="913.25" x2="1423.6" y2="1231.85" stroke="#000" stroke-width="2.7" stroke-linecap="butt"/>
<line x1="1404.7" y1="1230.5" x2="1423.6" y2="1230.5" stroke="#000" stroke-width="2.7" stroke-linecap="butt"/>
<text x="1392.9" y="1238.8" font-size="24.6" text-anchor="end">0</text>
<line x1="1404.7" y1="1125.2" x2="1423.6" y2="1125.2" stroke="#000" stroke-width="2.7" stroke-linecap="butt"/>
<text x="1392.9" y="1133.5" font-size="24.6" text-anchor="end">10</text>
<line x1="1404.7" y1="1019.9" x2="1423.6" y2="1019.9" stroke="#000" stroke-width="2.7" stroke-linecap="butt"/>
<text x="1392.9" y="1028.2" font-size="24.6" text-anchor="end">20</text>
<line x1="1404.7" y1="914.6" x2="1423.6" y2="914.6" stroke="#000" stroke-width="2.7" stroke-linecap="butt"/>
<text x="1392.9" y="922.9" font-size="24.6" text-anchor="end">30</text>
<path d="M1442.4,1230.5 V1008.1 H1479.4 V1230.5" fill="#ff8000" stroke="#000" stroke-width="2.8" stroke-linejoin="miter"/>
<path d="M1502.2,1230.5 V1194.8 H1539.2 V1230.5" fill="#ff8000" stroke="#000" stroke-width="2.8" stroke-linejoin="miter"/>
<path d="M1561.5,1230.5 V1205.9 H1598.5 V1230.5" fill="#d4d4d4" stroke="#000" stroke-width="2.8" stroke-linejoin="miter"/>
<path d="M1622.4,1230.5 V1195.8 H1659.4 V1230.5" fill="#ff8000" stroke="#000" stroke-width="2.8" stroke-linejoin="miter"/>
<path d="M1681.5,1230.5 V1204.6 H1718.5 V1230.5" fill="#d4d4d4" stroke="#000" stroke-width="2.8" stroke-linejoin="miter"/>
<path d="M1739.4,1230.5 V1201 H1776.4 V1230.5" fill="#ff8000" stroke="#000" stroke-width="2.8" stroke-linejoin="miter"/>
<path d="M1798.5,1230.5 V1208.1 H1835.5 V1230.5" fill="#d4d4d4" stroke="#000" stroke-width="2.8" stroke-linejoin="miter"/>
<line x1="1404.7" y1="1230.5" x2="1859.4" y2="1230.5" stroke="#000" stroke-width="2.7" stroke-linecap="butt"/>
<line x1="1460.9" y1="979.9" x2="1460.9" y2="1031.2" stroke="#000" stroke-width="2.6" stroke-linecap="butt"/>
<line x1="1450.9" y1="979.9" x2="1470.9" y2="979.9" stroke="#000" stroke-width="2.6" stroke-linecap="butt"/>
<line x1="1450.9" y1="1031.2" x2="1470.9" y2="1031.2" stroke="#000" stroke-width="2.6" stroke-linecap="butt"/>
<line x1="1520.7" y1="1180.1" x2="1520.7" y2="1204.5" stroke="#000" stroke-width="2.6" stroke-linecap="butt"/>
<line x1="1510.7" y1="1180.1" x2="1530.7" y2="1180.1" stroke="#000" stroke-width="2.6" stroke-linecap="butt"/>
<line x1="1510.7" y1="1204.5" x2="1530.7" y2="1204.5" stroke="#000" stroke-width="2.6" stroke-linecap="butt"/>
<line x1="1580" y1="1184.3" x2="1580" y2="1223.8" stroke="#000" stroke-width="2.6" stroke-linecap="butt"/>
<line x1="1570" y1="1184.3" x2="1590" y2="1184.3" stroke="#000" stroke-width="2.6" stroke-linecap="butt"/>
<line x1="1570" y1="1223.8" x2="1590" y2="1223.8" stroke="#000" stroke-width="2.6" stroke-linecap="butt"/>
<line x1="1640.9" y1="1177.2" x2="1640.9" y2="1209.7" stroke="#000" stroke-width="2.6" stroke-linecap="butt"/>
<line x1="1630.9" y1="1177.2" x2="1650.9" y2="1177.2" stroke="#000" stroke-width="2.6" stroke-linecap="butt"/>
<line x1="1630.9" y1="1209.7" x2="1650.9" y2="1209.7" stroke="#000" stroke-width="2.6" stroke-linecap="butt"/>
<line x1="1700" y1="1191.7" x2="1700" y2="1213.3" stroke="#000" stroke-width="2.6" stroke-linecap="butt"/>
<line x1="1690" y1="1191.7" x2="1710" y2="1191.7" stroke="#000" stroke-width="2.6" stroke-linecap="butt"/>
<line x1="1690" y1="1213.3" x2="1710" y2="1213.3" stroke="#000" stroke-width="2.6" stroke-linecap="butt"/>
<line x1="1757.9" y1="1177.3" x2="1757.9" y2="1220.7" stroke="#000" stroke-width="2.6" stroke-linecap="butt"/>
<line x1="1747.9" y1="1177.3" x2="1767.9" y2="1177.3" stroke="#000" stroke-width="2.6" stroke-linecap="butt"/>
<line x1="1747.9" y1="1220.7" x2="1767.9" y2="1220.7" stroke="#000" stroke-width="2.6" stroke-linecap="butt"/>
<line x1="1817" y1="1190.7" x2="1817" y2="1222.4" stroke="#000" stroke-width="2.6" stroke-linecap="butt"/>
<line x1="1807" y1="1190.7" x2="1827" y2="1190.7" stroke="#000" stroke-width="2.6" stroke-linecap="butt"/>
<line x1="1807" y1="1222.4" x2="1827" y2="1222.4" stroke="#000" stroke-width="2.6" stroke-linecap="butt"/>
<circle cx="1450.6" cy="983" r="6.2" fill="#fff" stroke="#000" stroke-width="2.5"/>
<circle cx="1470.3" cy="984.3" r="6.2" fill="#fff" stroke="#000" stroke-width="2.5"/>
<circle cx="1450.6" cy="1027" r="6.2" fill="#fff" stroke="#000" stroke-width="2.5"/>
<circle cx="1470.3" cy="1029.1" r="6.2" fill="#fff" stroke="#000" stroke-width="2.5"/>
<circle cx="1511.2" cy="1180.8" r="6.2" fill="#fff" stroke="#000" stroke-width="2.5"/>
<circle cx="1530.3" cy="1185.4" r="6.2" fill="#fff" stroke="#000" stroke-width="2.5"/>
<circle cx="1511.2" cy="1196.9" r="6.2" fill="#fff" stroke="#000" stroke-width="2.5"/>
<circle cx="1530.3" cy="1207.6" r="6.2" fill="#fff" stroke="#000" stroke-width="2.5"/>
<circle cx="1570.1" cy="1187.5" r="6.2" fill="#fff" stroke="#000" stroke-width="2.5"/>
<circle cx="1589.4" cy="1188.1" r="6.2" fill="#fff" stroke="#000" stroke-width="2.5"/>
<circle cx="1570.1" cy="1214.3" r="6.2" fill="#fff" stroke="#000" stroke-width="2.5"/>
<circle cx="1589.4" cy="1227.3" r="6.2" fill="#fff" stroke="#000" stroke-width="2.5"/>
<circle cx="1630.9" cy="1177.2" r="6.2" fill="#fff" stroke="#000" stroke-width="2.5"/>
<circle cx="1650.2" cy="1186" r="6.2" fill="#fff" stroke="#000" stroke-width="2.5"/>
<circle cx="1630.9" cy="1198.2" r="6.2" fill="#fff" stroke="#000" stroke-width="2.5"/>
<circle cx="1650.2" cy="1214.3" r="6.2" fill="#fff" stroke="#000" stroke-width="2.5"/>
<circle cx="1696.8" cy="1190" r="6.2" fill="#fff" stroke="#000" stroke-width="2.5"/>
<circle cx="1687.2" cy="1198.4" r="6.2" fill="#fff" stroke="#000" stroke-width="2.5"/>
<circle cx="1699.9" cy="1205.2" r="6.2" fill="#fff" stroke="#000" stroke-width="2.5"/>
<circle cx="1711.5" cy="1215.8" r="6.2" fill="#fff" stroke="#000" stroke-width="2.5"/>
<circle cx="1746.2" cy="1177.5" r="6.2" fill="#fff" stroke="#000" stroke-width="2.5"/>
<circle cx="1757.9" cy="1194.6" r="6.2" fill="#fff" stroke="#000" stroke-width="2.5"/>
<circle cx="1770.3" cy="1194.6" r="6.2" fill="#fff" stroke="#000" stroke-width="2.5"/>
<circle cx="1757.9" cy="1230" r="6.2" fill="#fff" stroke="#000" stroke-width="2.5"/>
<circle cx="1805.2" cy="1194.6" r="6.2" fill="#fff" stroke="#000" stroke-width="2.5"/>
<circle cx="1817" cy="1198.4" r="6.2" fill="#fff" stroke="#000" stroke-width="2.5"/>
<circle cx="1829.2" cy="1204.7" r="6.2" fill="#fff" stroke="#000" stroke-width="2.5"/>
<circle cx="1817" cy="1230.5" r="6.2" fill="#fff" stroke="#000" stroke-width="2.5"/>
<line x1="1460.4" y1="881.55" x2="1460.4" y2="962.4" stroke="#000" stroke-width="2.6" stroke-linecap="butt"/>
<polyline points="1460.4,882.8 1756,882.8 1756,1113" fill="none" stroke="#000" stroke-width="2.6" stroke-linejoin="miter" stroke-linecap="butt"/>
<polyline points="1460.4,917.3 1636,917.3 1636,1116.8" fill="none" stroke="#000" stroke-width="2.6" stroke-linejoin="miter" stroke-linecap="butt"/>
<polyline points="1460.4,951.2 1518,951.2 1518,1121" fill="none" stroke="#000" stroke-width="2.6" stroke-linejoin="miter" stroke-linecap="butt"/>
<text x="1561.5" y="875.6" font-size="24.3" text-anchor="start"><tspan font-style="italic">p</tspan> &lt; 0.0001</text>
<text x="1502.8" y="909.8" font-size="24.3" text-anchor="start"><tspan font-style="italic">p</tspan> &lt; 0.0001</text>
<text x="1465.2" y="944" font-size="24.3" text-anchor="start"><tspan font-style="italic">p</tspan> &lt; 0.0001</text>
<line x1="1441.5" y1="1249" x2="1480.7" y2="1249" stroke="#000" stroke-width="2.5" stroke-linecap="butt"/>
<line x1="1512.3" y1="1249" x2="1592.5" y2="1249" stroke="#000" stroke-width="2.5" stroke-linecap="butt"/>
<line x1="1628.8" y1="1249" x2="1709" y2="1249" stroke="#000" stroke-width="2.5" stroke-linecap="butt"/>
<line x1="1745.8" y1="1249" x2="1826.5" y2="1249" stroke="#000" stroke-width="2.5" stroke-linecap="butt"/>
<text x="1414.6" y="1281" font-size="25" text-anchor="start">Vehicle</text>
<text x="1507.5" y="1281" font-size="25" text-anchor="start">Apocynin</text>
<text x="1643" y="1281" font-size="25" text-anchor="start">HDC</text>
<text x="1736.3" y="1281" font-size="25" text-anchor="start">Catalase</text>
<text x="1404.2" y="749.4" font-size="25" text-anchor="start">Neu from NSG mice</text>
<rect x="1404" y="773" width="32.8" height="19.4" fill="#ff8000" stroke="#000" stroke-width="2.7"/>
<rect x="1404" y="810.3" width="32.8" height="19.4" fill="#d4d4d4" stroke="#000" stroke-width="2.7"/>
<text x="1450" y="791.2" font-size="20.9" text-anchor="start">AT3 + Neu</text>
<text x="1450" y="828.7" font-size="20.9" text-anchor="start">AT3</text>
<text x="1324.75" y="741.8" font-size="42.5" text-anchor="middle" font-weight="bold">f</text>
<text x="1339.9" y="1073.3" font-size="25.1" text-anchor="middle" transform="rotate(-90 1339.9 1073.3)">AT3 killed (%)</text>
</svg>
</body></html>
